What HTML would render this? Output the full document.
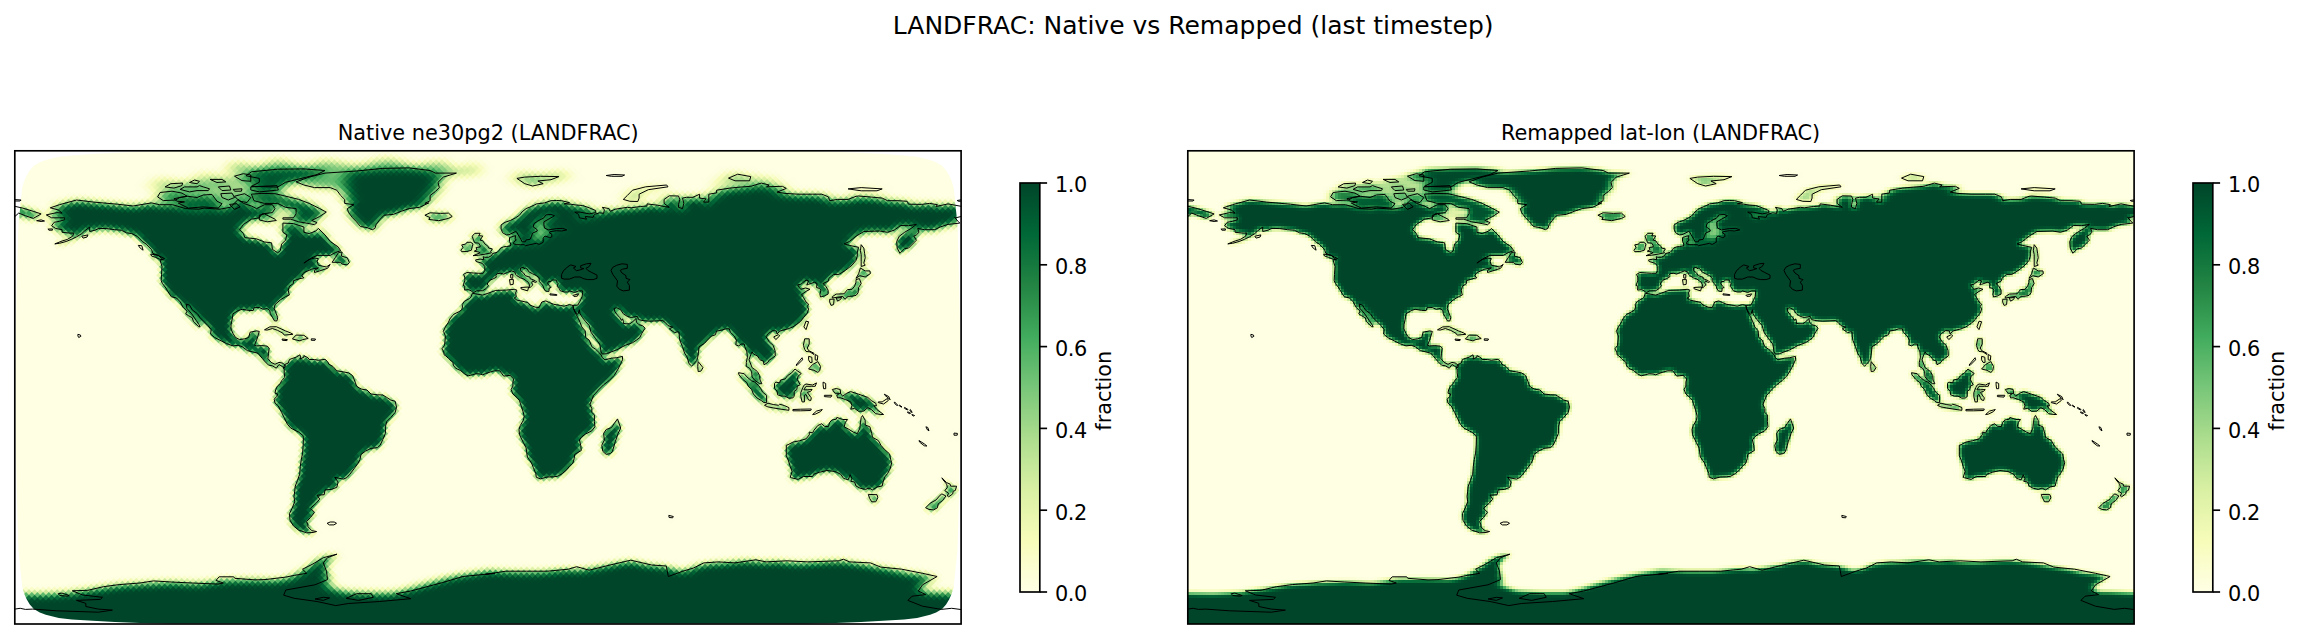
<!DOCTYPE html>
<html lang="en"><head><meta charset="utf-8"><title>LANDFRAC: Native vs Remapped</title>
<style>
html,body{margin:0;padding:0;background:#fff;}
body{width:2304px;height:639px;overflow:hidden;}
svg{display:block;font-family:"DejaVu Sans","Liberation Sans",sans-serif;fill:#000;}
</style></head><body>
<svg width="2304" height="639" viewBox="0 0 2304 639">
<defs>
<filter id="Lm" filterUnits="userSpaceOnUse" x="-30" y="-30" width="1006.3" height="533.2" color-interpolation-filters="sRGB"><feGaussianBlur in="SourceAlpha" stdDeviation="2.8 2.8"/><feColorMatrix type="matrix" values="0 0 0 1 0 0 0 0 1 0 0 0 0 1 0 0 0 0 0 1"/><feComponentTransfer><feFuncR type="table" tableValues="1.0000 0.9686 0.8510 0.6784 0.4706 0.2549 0.1373 0.0000 0.0000"/><feFuncG type="table" tableValues="1.0000 0.9882 0.9412 0.8667 0.7765 0.6706 0.5176 0.4078 0.2706"/><feFuncB type="table" tableValues="0.8980 0.7255 0.6392 0.5569 0.4745 0.3647 0.2627 0.2157 0.1608"/></feComponentTransfer></filter>
<filter id="Rm" filterUnits="userSpaceOnUse" x="-30" y="-30" width="1006.3" height="533.2" color-interpolation-filters="sRGB"><feGaussianBlur in="SourceAlpha" stdDeviation="2.0 2.0"/><feColorMatrix type="matrix" values="0 0 0 1 0 0 0 0 1 0 0 0 0 1 0 0 0 0 0 1"/><feComponentTransfer><feFuncR type="table" tableValues="1.0000 0.9686 0.8510 0.6784 0.4706 0.2549 0.1373 0.0000 0.0000"/><feFuncG type="table" tableValues="1.0000 0.9882 0.9412 0.8667 0.7765 0.6706 0.5176 0.4078 0.2706"/><feFuncB type="table" tableValues="0.8980 0.7255 0.6392 0.5569 0.4745 0.3647 0.2627 0.2157 0.1608"/></feComponentTransfer></filter>
<filter id="Lhn" filterUnits="userSpaceOnUse" x="-30" y="-30" width="1006.3" height="533.2" color-interpolation-filters="sRGB"><feGaussianBlur in="SourceAlpha" stdDeviation="4.0 3.2"/><feColorMatrix type="matrix" values="0 0 0 1 0 0 0 0 1 0 0 0 0 1 0 0 0 0 0 1"/><feComponentTransfer><feFuncR type="table" tableValues="1.0000 0.9686 0.8510 0.6784 0.4706 0.2549 0.1373 0.0000 0.0000"/><feFuncG type="table" tableValues="1.0000 0.9882 0.9412 0.8667 0.7765 0.6706 0.5176 0.4078 0.2706"/><feFuncB type="table" tableValues="0.8980 0.7255 0.6392 0.5569 0.4745 0.3647 0.2627 0.2157 0.1608"/></feComponentTransfer></filter>
<filter id="Rhn" filterUnits="userSpaceOnUse" x="-30" y="-30" width="1006.3" height="533.2" color-interpolation-filters="sRGB"><feGaussianBlur in="SourceAlpha" stdDeviation="2.6 2.1"/><feColorMatrix type="matrix" values="0 0 0 1 0 0 0 0 1 0 0 0 0 1 0 0 0 0 0 1"/><feComponentTransfer><feFuncR type="table" tableValues="1.0000 0.9686 0.8510 0.6784 0.4706 0.2549 0.1373 0.0000 0.0000"/><feFuncG type="table" tableValues="1.0000 0.9882 0.9412 0.8667 0.7765 0.6706 0.5176 0.4078 0.2706"/><feFuncB type="table" tableValues="0.8980 0.7255 0.6392 0.5569 0.4745 0.3647 0.2627 0.2157 0.1608"/></feComponentTransfer></filter>
<filter id="Lpn" filterUnits="userSpaceOnUse" x="-30" y="-30" width="1006.3" height="533.2" color-interpolation-filters="sRGB"><feGaussianBlur in="SourceAlpha" stdDeviation="7 3.8"/><feColorMatrix type="matrix" values="0 0 0 1 0 0 0 0 1 0 0 0 0 1 0 0 0 0 0 1"/><feComponentTransfer><feFuncR type="table" tableValues="1.0000 0.9686 0.8510 0.6784 0.4706 0.2549 0.1373 0.0000 0.0000"/><feFuncG type="table" tableValues="1.0000 0.9882 0.9412 0.8667 0.7765 0.6706 0.5176 0.4078 0.2706"/><feFuncB type="table" tableValues="0.8980 0.7255 0.6392 0.5569 0.4745 0.3647 0.2627 0.2157 0.1608"/></feComponentTransfer></filter>
<filter id="Rpn" filterUnits="userSpaceOnUse" x="-30" y="-30" width="1006.3" height="533.2" color-interpolation-filters="sRGB"><feGaussianBlur in="SourceAlpha" stdDeviation="4.0 2.3"/><feColorMatrix type="matrix" values="0 0 0 1 0 0 0 0 1 0 0 0 0 1 0 0 0 0 0 1"/><feComponentTransfer><feFuncR type="table" tableValues="1.0000 0.9686 0.8510 0.6784 0.4706 0.2549 0.1373 0.0000 0.0000"/><feFuncG type="table" tableValues="1.0000 0.9882 0.9412 0.8667 0.7765 0.6706 0.5176 0.4078 0.2706"/><feFuncB type="table" tableValues="0.8980 0.7255 0.6392 0.5569 0.4745 0.3647 0.2627 0.2157 0.1608"/></feComponentTransfer></filter>
<filter id="Lhs" filterUnits="userSpaceOnUse" x="-30" y="-30" width="1006.3" height="533.2" color-interpolation-filters="sRGB"><feGaussianBlur in="SourceAlpha" stdDeviation="4.0 3.2"/><feColorMatrix type="matrix" values="0 0 0 1 0 0 0 0 1 0 0 0 0 1 0 0 0 0 0 1"/><feComponentTransfer><feFuncR type="table" tableValues="1.0000 0.9686 0.8510 0.6784 0.4706 0.2549 0.1373 0.0000 0.0000"/><feFuncG type="table" tableValues="1.0000 0.9882 0.9412 0.8667 0.7765 0.6706 0.5176 0.4078 0.2706"/><feFuncB type="table" tableValues="0.8980 0.7255 0.6392 0.5569 0.4745 0.3647 0.2627 0.2157 0.1608"/></feComponentTransfer></filter>
<filter id="Rhs" filterUnits="userSpaceOnUse" x="-30" y="-30" width="1006.3" height="533.2" color-interpolation-filters="sRGB"><feGaussianBlur in="SourceAlpha" stdDeviation="2.6 2.1"/><feColorMatrix type="matrix" values="0 0 0 1 0 0 0 0 1 0 0 0 0 1 0 0 0 0 0 1"/><feComponentTransfer><feFuncR type="table" tableValues="1.0000 0.9686 0.8510 0.6784 0.4706 0.2549 0.1373 0.0000 0.0000"/><feFuncG type="table" tableValues="1.0000 0.9882 0.9412 0.8667 0.7765 0.6706 0.5176 0.4078 0.2706"/><feFuncB type="table" tableValues="0.8980 0.7255 0.6392 0.5569 0.4745 0.3647 0.2627 0.2157 0.1608"/></feComponentTransfer></filter>
<filter id="Lps" filterUnits="userSpaceOnUse" x="-30" y="-30" width="1006.3" height="533.2" color-interpolation-filters="sRGB"><feGaussianBlur in="SourceAlpha" stdDeviation="5.5 3.5"/><feColorMatrix type="matrix" values="0 0 0 1 0 0 0 0 1 0 0 0 0 1 0 0 0 0 0 1"/><feComponentTransfer><feFuncR type="table" tableValues="1.0000 0.9686 0.8510 0.6784 0.4706 0.2549 0.1373 0.0000 0.0000"/><feFuncG type="table" tableValues="1.0000 0.9882 0.9412 0.8667 0.7765 0.6706 0.5176 0.4078 0.2706"/><feFuncB type="table" tableValues="0.8980 0.7255 0.6392 0.5569 0.4745 0.3647 0.2627 0.2157 0.1608"/></feComponentTransfer></filter>
<filter id="Rps" filterUnits="userSpaceOnUse" x="-30" y="-30" width="1006.3" height="533.2" color-interpolation-filters="sRGB"><feGaussianBlur in="SourceAlpha" stdDeviation="3.4 2.3"/><feColorMatrix type="matrix" values="0 0 0 1 0 0 0 0 1 0 0 0 0 1 0 0 0 0 0 1"/><feComponentTransfer><feFuncR type="table" tableValues="1.0000 0.9686 0.8510 0.6784 0.4706 0.2549 0.1373 0.0000 0.0000"/><feFuncG type="table" tableValues="1.0000 0.9882 0.9412 0.8667 0.7765 0.6706 0.5176 0.4078 0.2706"/><feFuncB type="table" tableValues="0.8980 0.7255 0.6392 0.5569 0.4745 0.3647 0.2627 0.2157 0.1608"/></feComponentTransfer></filter>
<clipPath id="bm"><rect x="-5" y="83.42" width="956.3" height="306.35"/></clipPath><clipPath id="bhn"><rect x="-5" y="49.25" width="956.3" height="35.58"/></clipPath><clipPath id="bpn"><rect x="-5" y="-3.33" width="956.3" height="53.98"/></clipPath><clipPath id="bhs"><rect x="-5" y="388.38" width="956.3" height="35.58"/></clipPath><clipPath id="bps"><rect x="-5" y="422.55" width="956.3" height="53.98"/></clipPath>
<linearGradient id="cbg" x1="0" y1="1" x2="0" y2="0"><stop offset="0.0000" stop-color="rgb(255,255,229)"/><stop offset="0.1250" stop-color="rgb(247,252,185)"/><stop offset="0.2500" stop-color="rgb(217,240,163)"/><stop offset="0.3750" stop-color="rgb(173,221,142)"/><stop offset="0.5000" stop-color="rgb(120,198,121)"/><stop offset="0.6250" stop-color="rgb(65,171,93)"/><stop offset="0.7500" stop-color="rgb(35,132,67)"/><stop offset="0.8750" stop-color="rgb(0,104,55)"/><stop offset="1.0000" stop-color="rgb(0,69,41)"/></linearGradient>
<clipPath id="hull"><path d="M0.6 236.6L1.0 180.0L2.3 119.0L3.6 74.0L5.5 55.5L7.4 36.7L9.5 30.0L12.0 24.5L15.0 19.5L19.0 15.0L25.0 11.5L31.0 9.2L44.0 6.0L57.0 4.6L78.0 3.2L100.0 2.0L125.0 0.9L160.0 0.3L786.3 0.3L821.3 0.9L846.3 2.0L868.3 3.2L889.3 4.6L902.3 6.0L915.3 9.2L921.3 11.5L927.3 15.0L931.3 19.5L934.3 24.5L936.8 30.0L938.9 36.7L940.8 55.5L942.7 74.0L944.0 119.0L945.3 180.0L945.7 236.6L945.7 236.6L945.3 293.2L944.0 354.2L942.7 399.2L940.8 417.7L938.9 436.5L936.8 443.2L934.3 448.7L931.3 453.7L927.3 458.2L921.3 461.7L915.3 464.0L902.3 467.2L889.3 468.6L868.3 470.0L846.3 471.2L821.3 472.3L786.3 472.9L160.0 472.9L125.0 472.3L100.0 471.2L78.0 470.0L57.0 468.6L44.0 467.2L31.0 464.0L25.0 461.7L19.0 458.2L15.0 453.7L12.0 448.7L9.5 443.2L7.4 436.5L5.5 417.7L3.6 399.2L2.3 354.2L1.0 293.2L0.6 236.6Z"/></clipPath>
<clipPath id="boxR"><rect x="-0.2" y="-0.2" width="946.3" height="473.2"/></clipPath>
<filter id="pix" filterUnits="userSpaceOnUse" x="-6" y="-6" width="960" height="486" color-interpolation-filters="sRGB">
<feFlood x="-5" y="-5" width="1" height="1" flood-color="#000"/>
<feComposite x="-6" y="-6" width="3" height="3"/>
<feTile result="a"/>
<feComposite in="SourceGraphic" in2="a" operator="in"/>
<feMorphology operator="dilate" radius="1"/>
</filter>
<filter id="pixD" filterUnits="userSpaceOnUse" x="-12" y="-684" width="1032" height="1036" color-interpolation-filters="sRGB">
<feFlood x="-11" y="-683" width="1" height="1" flood-color="#000"/>
<feComposite x="-12" y="-684" width="4" height="4"/>
<feTile result="a"/>
<feComposite in="SourceGraphic" in2="a" operator="in"/>
<feMorphology operator="dilate" radius="1" result="m"/>
<feOffset in="m" dx="1" dy="0" result="m1"/>
<feMerge result="m2"><feMergeNode in="m1"/><feMergeNode in="m"/></feMerge>
<feOffset in="m2" dx="0" dy="1" result="m3"/>
<feMerge><feMergeNode in="m3"/><feMergeNode in="m2"/></feMerge>
</filter>
<clipPath id="box"><rect x="0" y="0" width="946.3" height="473.2"/></clipPath>
<g id="landL">
<path fill-opacity="0.06" d="M897.1 263.7L899.8 264.7L899.0 265.3L897.1 264.2Z"/>
<path fill-opacity="0.08" d="M884.5 254.2L887.2 256.1L886.4 256.3L884.3 254.7ZM889.8 256.6L893.2 258.7L892.7 259.2L889.5 257.4ZM892.9 261.0L895.8 262.4L895.0 262.9L892.7 261.8ZM895.6 258.7L897.4 261.6L896.6 261.6L895.0 259.2Z"/>
<path fill-opacity="0.1" d="M-2.6 48.6L6.3 49.2L5.3 50.2L-2.6 50.2ZM942.4 49.7L948.9 48.6L948.9 50.2L943.7 50.5ZM33.1 78.3L37.6 78.1L37.6 79.4L34.2 79.4ZM63.1 183.5L65.7 184.3L66.0 185.6L63.9 186.7L63.1 185.1ZM654.0 364.6L658.5 365.7L657.9 367.0L654.3 366.7ZM911.1 276.0L912.9 276.6L914.2 280.0L912.7 279.2Z"/>
<path fill-opacity="0.12" d="M591.4 24.7L599.3 23.7L609.8 24.2L607.2 25.5L596.7 25.5ZM879.8 251.1L883.0 254.5L881.9 254.7L879.5 252.1Z"/>
<path fill-opacity="0.15" d="M312.3 372.5L315.4 371.2L319.4 371.2L321.7 372.5L319.1 374.1L314.6 374.1ZM21.8 69.9L26.3 69.1L29.7 70.2L26.3 70.7ZM939.2 282.3L942.6 282.6L942.4 284.4L939.2 284.4Z"/>
<path fill-opacity="0.2" d="M296.5 188.0L300.7 188.2L300.2 189.5L296.5 189.5ZM535.2 143.0L542.0 143.8L542.0 144.6L535.2 144.1ZM869.5 243.4L874.0 245.8L875.3 249.0L874.0 247.6L870.1 244.5ZM904.2 289.7L909.5 293.1L912.1 295.2L909.5 295.0L904.8 291.3Z"/>
<path fill-opacity="0.22" d="M249.7 53.9L257.6 53.9L260.2 57.8L257.6 61.8L247.1 63.1L249.7 63.1L260.2 68.4L268.1 67.0L278.6 67.0L281.3 63.1L281.3 57.8L270.7 56.5L262.9 52.6L249.7 52.6Z"/>
<path fill-opacity="0.25" d="M123.5 94.6L127.0 94.9L128.3 99.4L125.4 97.3Z"/>
<path fill-opacity="0.3" d="M267.3 188.2L272.6 188.8L272.1 189.8L267.6 189.5ZM441.6 18.4L460.0 10.5L467.9 21.0L452.1 25.0ZM494.2 28.9L504.7 19.7L525.7 23.7L546.8 18.4L557.3 26.3L536.2 30.2ZM131.4 36.8L144.6 26.3L170.9 31.5L189.3 21.0L210.3 26.3L210.3 34.2L170.9 36.8ZM696.6 34.2L715.0 21.0L736.0 25.0L757.0 26.3L767.6 32.9L736.0 34.2ZM67.0 85.4L73.1 84.1L72.3 86.2L68.3 87.3ZM833.3 38.1L846.4 36.8L867.4 38.1L862.2 40.0L846.4 40.0ZM495.8 123.8L498.1 123.8L497.9 127.5L496.0 127.2ZM558.1 144.6L563.8 143.0L562.5 145.4L559.1 145.6ZM781.2 214.3L787.3 206.9L787.8 209.0L782.0 214.8Z"/>
<path fill-opacity="0.33" d="M141.9 49.9L144.6 39.4L163.0 34.2L197.1 30.2L223.4 22.3L236.6 17.9L289.1 16.8L315.4 19.2L302.3 24.2L283.9 28.9L270.7 34.2L265.5 40.7L270.7 45.2L249.7 51.8L236.6 56.5L218.2 57.8L197.1 57.3L170.9 57.8L157.7 53.9Z"/>
<path fill-opacity="0.35" d="M808.3 231.3L810.9 232.7L810.9 237.9L808.8 237.9L808.3 234.0ZM809.6 244.5L817.0 244.5L816.2 246.3L809.6 245.8Z"/>
<path fill-opacity="0.4" d="M713.7 27.3L722.9 23.4L736.0 25.8L734.7 30.0L720.2 30.0ZM778.1 258.7L786.0 258.4L796.5 258.2L795.9 259.7L786.0 260.0L778.1 260.0ZM863.5 251.1L867.4 251.1L872.7 247.6L873.5 249.7L868.8 253.2L863.5 251.8ZM218.5 38.6L227.2 38.0L226.6 40.4L219.7 40.4Z"/>
<path fill-opacity="0.45" d="M608.5 48.6L612.5 44.7L617.7 39.4L630.9 36.0L651.9 34.2L653.2 36.0L633.5 38.9L624.3 43.4L624.3 47.3L623.0 50.7L615.1 50.5ZM517.8 82.3L522.6 80.2L521.8 78.3L518.4 76.2L519.2 72.8L523.1 70.2L529.1 67.0L531.0 64.1L536.2 63.6L539.7 64.9L537.6 66.2L529.1 71.0L529.1 74.1L529.7 77.3L533.6 79.1L541.5 77.8L548.1 77.6L552.0 79.1L546.8 80.2L541.5 79.9L534.9 81.0L534.9 82.3L537.0 83.3L537.0 86.0L534.9 86.8L530.2 85.2L528.4 87.3L528.4 91.5L524.4 93.6L521.5 92.5L515.2 93.9L510.7 94.9L505.5 93.9L502.1 93.9L500.8 90.7L506.3 88.9L507.3 91.0L510.5 91.0L511.3 89.1L515.2 88.6L516.5 86.0ZM195.3 28.6L207.2 28.6L211.0 31.1L202.2 31.7Z"/>
<path fill-opacity="0.5" d="M210.3 19.7L220.8 10.5L241.8 15.8L262.9 7.4L289.1 15.2L310.2 8.4L341.7 14.5L373.3 6.6L399.5 14.5L425.8 9.2L441.6 18.4L452.1 23.7L420.6 21.0L368.0 18.4L315.4 21.0L262.9 18.9ZM502.1 27.6L510.0 26.3L525.7 25.5L544.1 25.8L536.2 28.9L523.1 30.2L528.4 32.9L517.8 35.2L510.0 32.9ZM494.7 128.8L498.6 128.8L498.4 133.5L495.5 134.1ZM800.4 203.7L803.0 205.1L802.5 209.5L800.4 209.0ZM793.8 205.6L797.0 206.4L797.3 211.6L795.2 211.6L793.8 209.0ZM797.8 263.7L801.7 260.3L807.5 258.7L805.7 260.8L800.4 263.4ZM150.3 36.1L156.0 32.9L167.8 32.3L167.2 34.8L159.1 37.3ZM174.7 31.7L179.7 29.2L184.7 30.5L182.2 32.9ZM203.5 36.1L214.7 35.2L216.0 39.2L207.2 39.8Z"/>
<path fill-opacity="0.55" d="M281.3 31.0L294.4 26.3L310.2 22.3L331.2 20.5L331.2 28.9L328.6 36.8L322.0 39.4L315.4 36.8L299.7 36.8L289.1 34.2ZM171.4 153.3L172.2 157.7L176.9 163.0L181.4 169.6L184.0 173.5L185.3 176.1L189.3 170.9L185.3 166.9L182.7 163.0L177.4 159.0L174.8 154.3ZM206.0 42.9L217.2 42.3L219.7 46.7L213.5 49.2L207.2 46.7Z"/>
<path fill-opacity="0.6" d="M236.6 17.9L236.6 40.7L265.5 40.7L270.7 34.2L283.9 28.9L302.3 24.2L315.4 19.2L289.1 16.8ZM584.9 202.4L587.0 205.1L587.0 206.4L590.1 203.5L587.5 203.2L586.2 201.1ZM821.4 147.2L826.7 146.7L825.9 148.5L822.8 150.4ZM791.2 170.4L793.8 170.9L791.2 178.8L789.1 176.1ZM165.3 38.6L169.7 36.1L182.2 36.1L184.7 34.8L188.5 36.1L194.7 38.0L193.5 39.8L182.2 39.8L174.7 41.1ZM219.7 45.4L229.7 42.9L236.0 46.7L232.2 51.7L224.7 50.4ZM214.7 53.6L222.2 52.9L225.3 56.1L219.7 58.6Z"/>
<path fill-opacity="0.7" d="M244.5 64.4L249.7 63.1L260.2 68.4L261.5 69.7L252.3 71.0L244.5 69.1ZM506.0 136.7L513.9 136.2L512.8 140.1L506.3 138.0ZM846.4 93.9L849.0 97.3L849.8 102.5L850.4 107.0L849.0 112.3L850.4 114.4L846.4 115.7L846.4 110.4L846.4 103.8L845.6 99.9ZM814.9 148.5L819.3 148.3L818.8 153.8L816.2 154.6L814.9 151.2ZM758.9 186.1L763.6 183.8L764.9 185.1L761.0 188.8ZM142.8 46.1L145.3 41.7L157.2 40.4L167.2 42.3L172.2 45.4L164.7 46.7L161.0 49.2L148.5 49.8ZM219.7 25.4L228.5 22.9L236.0 24.2L236.0 30.5L227.2 29.8Z"/>
<path fill-opacity="0.75" d="M446.9 100.9L452.1 100.7L456.6 99.4L457.4 96.0L458.2 93.3L456.1 91.5L452.1 91.5L450.8 93.3L446.9 94.1L448.2 96.7L446.1 99.4ZM559.9 61.3L565.2 61.3L574.4 63.1L580.9 61.8L580.9 59.7L588.8 62.6L584.9 62.0L579.6 63.6L578.3 66.5L570.4 65.7L571.7 68.4L564.6 67.0L563.8 63.6Z"/>
<path fill-opacity="0.8" d="M236.6 35.5L262.9 36.3L270.7 31.5L281.3 28.9L302.3 23.7L310.2 19.7L289.1 18.1L262.9 18.4L236.6 21.0L231.3 25.0L244.5 27.6L244.5 31.5ZM249.7 179.0L255.0 176.1L261.5 175.9L270.7 180.1L276.0 182.2L278.1 183.5L269.4 184.3L268.1 182.4L262.9 179.6L257.6 177.7L252.3 179.3ZM277.6 188.2L281.3 184.3L289.1 184.5L293.4 187.7L287.8 188.8L285.2 190.1ZM500.8 90.7L502.1 93.9L505.5 93.9L510.7 94.9L515.2 93.9L521.5 92.5L524.4 93.6L528.4 91.5L528.4 87.3L520.5 86.8L516.5 86.0L515.2 88.6L511.3 89.1L510.5 91.0L507.3 91.0L506.3 88.9ZM533.6 79.1L541.5 77.8L548.1 77.6L552.0 79.1L546.8 80.2L541.5 79.9L534.9 81.0ZM530.2 85.2L534.9 86.8L537.0 86.0L537.0 83.3L534.9 82.3L531.0 83.3ZM501.0 84.9L503.4 84.1L506.3 88.9L507.3 91.0L505.5 93.9L502.1 93.9L498.9 93.1L498.9 91.5L501.5 89.1L500.2 88.1ZM683.4 210.8L688.2 216.9L686.1 220.3L683.4 220.8L682.9 215.6ZM789.9 188.0L794.4 188.0L794.4 193.2L792.5 197.2L793.8 199.8L799.1 202.4L799.1 203.7L795.2 201.1L791.2 200.6L789.9 198.5L788.6 194.5ZM793.8 218.2L797.8 213.7L803.0 210.8L805.7 215.6L804.9 220.0L803.0 221.6L799.1 219.5ZM749.7 254.5L753.1 252.4L758.4 253.7L763.6 254.5L764.9 253.4L769.4 254.7L774.1 256.8L774.1 259.5L766.2 258.4L758.4 257.1L753.1 256.1ZM787.3 251.1L786.0 245.8L786.0 241.9L788.1 236.6L789.1 234.5L791.2 233.2L797.8 234.2L801.7 232.1L800.4 235.5L796.5 235.5L791.2 235.5L789.1 239.0L792.5 239.0L797.3 238.7L795.9 240.5L792.5 241.6L795.2 245.3L796.5 247.1L795.9 249.7L793.8 249.2L792.5 246.6L791.2 243.7L789.6 244.5L789.6 251.1ZM853.5 343.6L862.2 343.9L863.0 347.0L860.9 351.0L856.9 351.0L854.8 347.5ZM927.1 327.0L931.8 331.8L935.3 333.3L935.8 335.4L941.8 335.4L940.5 339.7L938.4 340.4L937.9 343.1L933.9 346.0L932.6 345.2L933.7 342.3L930.0 339.9L932.6 336.5L931.8 333.3L927.9 328.6Z"/>
<path fill-opacity="0.85" d="M458.2 104.9L463.9 104.4L470.5 103.3L476.6 102.0L475.8 100.9L477.6 98.1L473.9 97.3L473.1 95.4L470.0 93.1L467.9 89.9L465.3 89.4L467.9 85.2L463.9 84.9L465.3 82.5L460.0 82.5L457.4 85.4L458.7 89.4L460.0 92.0L463.9 92.3L465.3 94.6L465.3 96.2L461.3 96.7L462.1 99.1L459.5 100.4L463.9 101.2L465.3 102.0ZM410.1 64.4L415.3 62.0L425.8 62.6L433.7 62.3L437.4 65.7L433.7 67.6L424.0 69.9L414.0 68.6L415.3 66.8ZM841.2 127.5L843.8 123.0L845.6 117.2L850.4 120.1L855.1 120.1L855.6 122.8L850.4 126.2L845.1 124.9ZM927.1 343.1L931.1 345.2L927.9 349.6L923.4 353.1L922.6 357.0L918.7 359.1L914.2 358.6L910.8 357.0L915.5 352.3L921.3 349.1L925.3 344.4ZM236.0 36.1L262.2 34.8L263.5 39.2L244.7 41.1L236.0 39.2Z"/>
<path fill-opacity="0.9" d="M844.6 127.8L846.4 132.8L843.8 136.7L843.3 142.0L841.2 144.6L837.2 145.4L833.3 145.6L830.1 148.5L828.0 145.6L822.8 146.4L817.5 147.2L817.5 145.9L821.4 143.3L829.3 143.0L832.7 138.8L837.2 138.5L839.8 135.4L841.2 131.4L841.2 128.8ZM159.1 47.9L172.2 45.4L182.2 46.7L188.5 44.2L197.2 43.6L202.2 50.4L207.2 52.9L203.5 57.3L188.5 56.1L173.5 57.3L163.5 52.3L169.7 51.1L162.2 50.4Z"/>
<path fill-opacity="0.95" d="M311.5 61.3L304.9 57.8L294.4 52.6L283.9 48.6L268.1 44.7L260.2 42.9L247.1 42.6L236.6 43.4L239.2 49.9L249.7 52.6L262.9 52.6L270.7 56.5L281.3 57.8L281.3 63.1L278.6 67.0L268.1 67.0L268.1 68.4L276.0 68.4L283.9 71.0L294.4 72.8L299.7 73.9L302.3 71.8L297.0 69.7L302.3 67.0L304.9 65.7ZM723.7 221.9L729.4 222.9L732.1 226.1L736.8 230.0L740.0 231.3L743.9 234.8L746.0 237.9L747.8 241.3L751.8 244.5L751.8 251.8L749.2 251.8L746.5 249.7L742.1 247.1L738.6 243.2L736.8 238.7L733.4 235.3L732.1 231.9L728.1 228.7L724.2 224.0Z"/>
<path fill-opacity="1" d="M31.5 64.1L42.1 61.8L47.3 62.3L43.4 59.1L35.5 57.0L44.7 53.9L61.8 49.2L78.9 51.3L102.5 53.4L118.3 55.2L136.7 52.1L144.6 53.9L157.7 53.9L170.9 57.8L184.0 58.4L189.3 57.3L205.0 58.4L215.5 56.5L223.4 48.6L228.7 52.6L236.6 55.2L241.8 57.8L249.7 53.9L257.6 53.9L260.2 57.8L257.6 61.8L247.1 63.1L244.5 67.0L236.6 68.4L228.7 73.6L224.7 78.9L228.7 82.8L230.0 86.8L241.8 88.1L249.7 91.2L256.8 92.0L257.6 98.6L262.9 102.0L265.5 99.9L266.8 93.3L270.7 89.4L272.1 84.1L268.1 81.5L268.1 76.2L268.1 72.3L278.6 72.8L289.1 76.2L289.1 81.5L294.4 82.8L301.0 80.2L303.6 77.6L310.2 84.1L315.4 90.7L323.3 96.0L325.9 99.9L320.7 101.7L315.4 104.6L302.3 104.6L297.0 107.0L289.1 112.3L294.4 108.6L299.7 107.3L303.6 107.8L302.3 110.4L303.6 114.4L311.5 116.2L315.4 113.6L312.8 117.5L304.9 120.1L299.7 121.7L299.7 119.6L303.6 117.0L297.0 118.3L293.1 120.1L289.1 121.7L287.0 124.9L289.1 127.0L285.2 127.8L278.6 129.9L278.6 132.8L274.7 135.4L273.4 139.3L274.2 143.3L274.7 144.1L270.7 145.9L265.5 149.1L260.2 153.8L259.4 157.7L261.5 163.0L262.9 166.9L262.1 170.1L259.7 170.1L257.6 166.4L255.5 163.0L255.0 159.8L252.3 157.7L248.4 158.5L244.5 156.7L239.2 156.9L238.4 159.8L233.9 159.6L227.4 158.5L223.4 159.8L218.2 163.0L217.4 168.2L216.3 173.5L216.1 178.0L218.2 182.7L220.8 186.7L224.7 188.8L230.0 188.0L233.9 186.7L235.3 181.4L241.8 180.1L244.5 180.6L243.1 185.3L241.8 189.3L239.7 194.5L241.8 195.1L247.1 194.8L252.3 195.3L254.4 197.2L253.7 202.4L253.1 207.7L256.3 211.6L260.2 213.5L264.2 211.6L268.1 212.4L270.7 215.0L269.4 217.4L267.3 215.6L264.2 213.7L261.5 217.4L257.6 215.0L253.7 214.3L249.7 210.3L247.6 207.7L243.1 202.4L237.9 201.1L232.6 199.8L227.4 195.9L223.4 194.5L218.2 195.1L211.6 192.7L205.0 189.3L199.8 186.7L195.8 183.2L196.4 178.8L193.2 174.8L189.3 170.9L185.3 166.9L182.7 163.0L177.4 159.0L174.8 154.3L171.4 153.3L172.2 157.7L176.9 163.0L181.4 169.6L184.0 173.5L185.3 176.1L183.5 175.6L178.7 170.9L177.4 166.9L173.5 164.8L170.9 163.0L172.2 160.4L168.2 156.4L165.6 151.2L161.7 147.2L156.4 145.9L153.0 140.6L151.1 137.2L147.7 132.8L146.4 130.1L146.7 123.6L147.2 115.7L145.4 109.6L149.8 107.8L144.6 105.2L138.0 102.5L136.7 98.6L131.4 93.3L127.5 90.7L122.2 85.4L117.0 82.8L111.7 82.0L106.5 79.4L99.9 78.9L92.0 77.8L84.1 77.6L80.2 79.4L74.9 80.7L74.9 76.2L69.7 80.2L67.0 82.8L61.8 86.0L56.5 88.6L51.3 90.7L44.7 92.5L40.0 93.1L47.3 90.2L52.6 88.6L57.8 85.4L59.1 82.3L55.2 82.3L47.3 81.5L47.3 78.9L40.7 77.6L36.8 74.9L39.4 71.5L44.7 70.5L49.9 68.9L49.9 67.0L44.7 67.0L36.8 67.0ZM135.9 103.3L143.3 104.4L148.5 109.1L144.6 108.3L140.6 106.5L136.7 105.2ZM317.3 111.5L320.7 106.5L323.8 101.7L327.3 101.2L326.5 105.2L332.5 107.0L334.6 111.7L332.5 114.1L327.3 113.3L325.9 111.5ZM270.0 213.7L273.4 212.2L274.7 208.7L277.3 207.7L281.3 206.4L285.2 204.0L285.7 206.4L285.2 208.2L289.1 206.4L289.1 204.8L293.1 206.9L294.4 208.7L299.7 208.7L303.6 209.5L310.2 208.5L312.8 210.8L314.1 213.5L318.1 215.6L322.0 220.0L328.6 221.1L333.8 222.1L337.8 224.8L340.4 231.3L341.7 235.3L344.3 237.1L347.0 238.4L352.2 239.2L356.2 243.2L362.7 244.0L368.0 244.2L371.9 246.6L375.9 249.2L380.4 250.5L381.7 256.3L380.4 261.6L375.9 266.8L371.9 270.8L370.6 276.0L370.6 282.6L368.0 288.7L365.4 294.4L362.7 296.8L356.2 297.6L350.9 300.2L346.2 303.6L345.1 308.9L343.0 312.8L339.1 318.1L335.1 323.4L332.0 326.8L328.6 328.3L323.3 327.3L319.9 326.5L323.3 331.2L322.0 336.5L316.7 338.6L310.2 339.1L309.4 343.9L302.3 344.4L304.9 348.3L301.5 352.3L295.7 357.5L299.7 361.5L295.7 366.7L291.8 370.7L293.1 374.1L293.1 375.9L297.0 379.9L301.8 380.7L298.3 381.7L291.8 382.0L283.9 379.3L278.6 375.1L275.2 369.4L274.7 362.8L277.3 357.5L279.9 351.0L279.2 345.7L279.9 340.4L280.5 335.2L282.6 329.9L284.9 323.4L285.5 315.5L286.5 308.9L287.8 302.3L288.4 294.4L288.6 286.5L288.1 284.7L283.9 281.3L276.0 277.3L272.6 273.4L270.0 268.1L266.8 261.6L263.4 255.0L260.2 252.4L259.4 248.4L262.1 245.5L262.9 243.2L260.2 242.4L260.8 239.2L262.6 235.3L265.5 232.7L266.8 230.0L270.0 226.6L269.4 222.1L269.4 218.2L268.4 217.4ZM331.2 20.5L368.0 17.6L394.3 17.1L415.3 19.7L420.6 22.3L436.3 22.9L428.5 26.3L423.2 31.5L424.5 36.8L420.6 40.7L415.3 44.7L415.3 49.9L410.1 52.6L414.0 52.1L404.8 56.5L394.3 57.8L386.4 60.5L378.5 63.6L369.3 64.4L365.4 68.4L361.4 73.6L360.1 77.6L357.5 78.9L352.2 76.8L345.7 75.7L341.7 71.0L337.8 67.0L333.8 61.8L332.5 57.8L336.5 53.9L331.2 49.9L331.2 44.7L328.6 36.8L331.2 28.9ZM458.4 142.0L456.6 140.1L453.7 138.8L449.8 139.3L450.0 135.4L448.2 134.6L450.0 130.1L450.0 126.2L448.7 123.6L452.1 121.7L458.7 122.2L463.9 122.5L468.4 122.5L470.0 119.6L470.0 115.7L467.4 112.5L461.3 110.7L460.8 109.1L465.3 108.3L468.9 108.8L468.4 105.9L470.0 106.5L473.7 106.5L477.1 104.6L477.6 102.8L482.4 101.5L484.5 99.4L485.8 97.3L488.9 96.0L491.6 95.7L495.5 95.2L496.0 93.3L494.7 90.7L494.7 86.8L498.9 85.4L501.0 84.9L500.2 88.1L501.5 89.1L498.9 91.5L498.9 93.1L502.1 93.9L505.5 93.9L509.4 93.9L510.7 94.9L515.2 93.9L521.5 92.5L524.4 93.6L528.4 91.5L528.4 87.3L530.2 85.2L534.9 86.8L537.0 86.0L537.0 83.3L534.9 82.3L534.9 81.0L541.5 79.9L546.8 80.2L552.0 79.1L548.1 77.6L541.5 77.8L533.6 79.1L529.7 77.3L529.1 74.1L529.1 71.0L537.6 66.2L539.7 64.9L536.2 63.6L531.0 64.1L529.1 67.0L523.1 70.2L519.2 72.8L518.4 76.2L521.8 78.3L522.6 80.2L517.8 82.3L516.5 86.0L515.2 88.6L511.3 89.1L510.5 91.0L507.3 91.0L506.3 88.9L503.4 84.1L502.1 81.5L500.8 80.7L498.1 82.0L494.2 83.9L491.6 84.1L487.9 82.0L486.3 78.3L486.3 74.1L490.2 71.5L495.5 69.7L500.8 67.0L504.7 64.4L507.3 61.0L511.3 57.8L516.5 55.7L521.8 53.1L529.7 52.1L536.2 49.9L541.5 49.7L546.8 49.9L554.6 51.8L549.4 53.1L556.0 53.4L561.2 54.2L567.8 54.7L574.4 57.0L580.9 59.7L580.9 61.8L574.4 63.1L565.2 61.3L559.9 61.3L563.8 63.6L564.6 67.0L571.7 68.4L570.4 65.7L578.3 66.5L579.6 63.6L584.9 62.0L588.8 62.6L589.6 59.1L587.5 56.5L594.1 57.8L595.4 60.5L600.6 58.4L612.5 56.5L616.4 57.0L625.6 55.7L632.2 55.2L632.2 53.1L642.7 54.4L649.3 55.7L654.5 56.5L649.3 52.6L649.3 48.6L654.5 45.0L663.7 45.2L665.0 48.6L663.7 53.9L663.7 56.5L667.7 57.8L669.0 52.6L667.7 47.3L671.6 46.5L678.2 46.5L684.8 43.4L684.8 47.3L691.3 48.1L688.7 51.3L694.0 51.3L694.0 43.4L701.8 42.1L701.8 39.4L715.0 37.3L725.5 36.3L736.0 35.5L746.5 32.3L754.4 34.2L751.8 36.0L767.6 35.5L771.5 37.6L762.3 41.3L770.2 42.6L783.3 43.4L797.8 43.4L807.0 43.4L813.6 46.0L814.9 49.9L822.8 48.6L833.3 48.6L841.2 45.5L843.8 45.2L856.9 46.3L867.4 47.3L872.7 49.9L883.2 49.9L892.4 50.5L893.7 53.4L906.9 53.6L914.8 52.6L922.6 53.9L921.3 55.7L933.2 53.1L946.3 55.5L964.7 55.5L964.7 65.7L946.3 65.7L941.0 67.0L939.7 66.5L943.7 71.0L945.0 72.3L933.2 73.6L925.3 76.2L920.0 78.9L909.5 78.9L902.9 77.6L904.2 81.5L901.6 84.1L899.0 85.4L901.6 89.4L899.0 92.0L893.7 97.3L889.8 97.8L885.1 102.5L882.4 97.3L881.9 90.7L884.5 85.4L889.8 81.5L896.4 77.6L901.6 73.6L893.7 74.9L885.8 74.7L879.3 79.4L872.7 81.5L864.8 80.2L849.0 80.7L841.2 85.4L834.6 90.7L829.3 93.1L834.6 94.6L843.8 96.5L842.5 101.2L842.5 105.2L841.2 109.6L837.2 114.4L830.6 119.6L824.1 123.6L818.8 123.6L816.7 125.4L814.1 127.5L813.6 130.1L808.3 132.8L810.9 135.4L813.3 139.3L813.3 143.3L809.6 145.1L805.7 146.2L805.1 143.3L806.2 139.3L804.4 137.5L801.7 136.7L802.3 132.8L799.9 131.4L793.8 133.5L792.0 134.1L793.8 130.1L791.2 129.3L786.0 133.5L782.8 134.1L784.6 136.7L786.0 138.5L790.7 137.2L795.2 138.5L791.2 140.6L786.7 143.8L788.6 146.4L791.2 151.2L793.8 153.3L792.5 155.6L793.8 158.3L792.5 162.2L788.6 166.9L786.0 170.4L782.0 173.5L778.1 176.1L773.3 178.0L770.2 178.8L764.9 180.3L762.3 183.2L761.5 180.1L757.8 179.8L753.6 182.7L751.3 185.9L754.4 191.1L758.4 194.5L760.2 199.8L760.5 205.1L757.0 207.7L754.4 209.3L753.1 211.6L749.2 214.0L748.6 210.3L745.2 209.0L742.6 205.1L738.6 203.2L737.3 201.1L736.0 203.7L734.2 209.0L735.5 212.2L737.3 216.9L740.0 218.7L742.6 220.8L744.9 224.8L745.2 229.2L747.1 232.9L744.9 232.9L740.0 229.5L737.3 226.1L736.8 220.8L734.7 217.4L731.5 215.6L731.5 211.6L732.6 206.4L732.1 201.1L730.0 195.9L729.4 193.2L726.8 193.2L723.7 195.1L721.0 194.0L721.6 189.3L719.5 185.3L715.5 181.4L714.5 178.0L711.0 178.0L707.1 179.3L701.8 180.3L700.5 184.0L696.6 185.3L692.6 189.3L689.5 192.7L684.2 195.9L683.7 201.1L682.9 206.4L682.1 209.5L678.7 213.5L676.9 215.3L674.2 212.9L672.4 206.4L669.8 202.4L667.7 195.9L665.0 189.3L664.5 185.3L664.3 181.4L662.9 180.9L659.8 181.9L654.5 178.0L657.9 176.4L653.2 174.8L650.1 171.4L648.0 169.8L641.4 170.1L634.8 170.4L628.2 169.8L623.8 168.8L622.5 165.6L616.4 166.7L612.5 165.6L608.5 163.0L605.9 159.0L602.0 156.9L599.3 157.7L600.1 160.9L602.7 164.3L605.1 166.9L606.7 169.6L607.7 168.0L608.8 170.9L608.3 172.5L611.2 173.0L615.1 173.0L619.0 170.1L621.1 167.7L621.7 171.4L624.3 174.0L627.7 174.8L630.3 177.4L626.9 182.7L625.1 186.7L621.7 189.3L617.7 191.9L610.4 194.5L602.0 199.0L591.4 203.0L587.5 203.2L586.2 201.1L585.7 197.2L584.9 193.2L580.9 188.0L576.2 181.4L574.4 174.8L570.9 170.9L567.8 166.9L565.2 163.0L564.6 159.0L563.3 163.0L563.0 163.5L560.7 161.7L558.8 158.0L558.1 154.6L563.0 154.3L565.2 150.4L567.3 145.9L567.8 142.0L567.8 140.1L563.8 140.1L559.9 141.7L554.6 140.1L553.3 141.2L549.4 141.2L545.4 139.9L544.6 138.0L542.3 135.4L543.3 132.8L542.0 131.4L542.0 130.1L541.5 129.3L537.6 129.1L536.2 130.7L533.6 130.7L532.8 132.8L534.9 135.4L536.2 136.7L534.4 137.2L534.1 140.6L532.3 140.6L530.2 139.9L528.9 137.2L528.4 135.4L527.0 133.3L524.4 130.7L524.4 127.0L521.8 124.9L517.8 123.0L513.9 120.9L512.6 118.3L510.7 117.5L509.2 117.8L508.9 116.5L505.7 117.2L505.5 119.6L508.6 122.0L510.5 124.9L515.2 126.4L515.2 127.8L520.5 129.9L521.8 131.2L520.5 131.7L517.8 130.1L516.8 132.0L518.1 134.1L516.5 135.4L515.2 137.0L514.4 136.7L514.7 134.1L513.4 131.4L511.3 129.9L509.2 128.3L505.5 127.0L502.1 124.9L500.8 123.6L500.0 121.2L496.8 120.1L492.9 121.5L488.9 123.3L485.8 122.5L482.4 122.8L481.0 124.9L481.6 126.4L478.4 128.0L475.3 129.3L473.1 132.0L472.4 133.3L473.7 134.9L471.3 137.8L467.9 139.9L461.6 140.1ZM-18.4 55.5L0.0 55.5L7.9 57.3L18.4 60.5L26.3 63.1L21.0 66.2L18.4 67.6L10.5 64.9L3.9 62.3L0.0 65.7L-18.4 65.7ZM457.6 142.5L467.9 144.3L473.1 142.5L481.0 139.6L491.6 139.3L499.4 138.5L502.1 139.3L500.8 142.0L501.5 145.9L499.4 147.2L502.1 149.3L506.0 150.1L513.1 151.7L515.2 154.3L520.5 156.4L524.4 156.7L525.7 153.8L527.0 151.2L531.0 150.1L534.9 151.9L538.9 153.5L545.4 154.6L549.4 155.4L554.6 153.8L558.1 154.6L558.8 158.0L560.7 162.5L562.5 165.6L565.2 171.4L567.0 176.1L570.4 180.1L570.9 186.7L574.4 189.3L577.0 195.9L580.9 198.5L584.9 202.4L587.0 205.1L587.0 206.4L590.1 209.0L596.7 207.4L602.0 206.9L607.7 205.6L607.7 209.0L605.9 212.9L603.3 218.2L599.3 224.8L594.1 230.0L588.8 234.0L583.6 239.2L580.9 242.4L578.8 244.5L577.0 249.0L575.1 253.7L577.0 257.6L577.0 261.6L579.6 264.2L579.6 270.8L580.1 276.0L577.0 280.0L570.4 283.4L566.5 286.5L564.6 289.2L565.9 294.4L566.5 299.7L559.9 303.6L559.4 307.6L558.1 312.3L554.6 315.5L552.0 318.9L547.5 322.8L542.8 325.5L538.9 326.0L532.3 326.2L525.7 328.1L521.5 326.5L521.0 322.8L518.6 316.8L516.5 311.8L512.6 306.3L511.3 297.1L508.6 291.8L504.7 283.9L504.2 278.7L505.5 274.7L508.6 269.5L509.4 265.5L508.1 260.3L505.5 252.4L504.7 249.7L502.3 246.9L498.1 243.2L496.3 238.7L498.1 235.3L498.1 231.3L498.9 228.2L496.8 226.1L495.5 224.5L491.6 225.0L488.9 225.3L485.0 220.0L479.7 220.0L475.8 221.1L470.5 222.9L467.9 224.0L465.3 223.2L461.3 222.9L457.4 224.0L453.4 225.0L449.5 222.9L445.5 219.5L442.9 218.5L440.3 216.9L438.5 214.3L438.2 211.6L435.0 209.0L433.7 207.7L431.1 205.1L429.3 204.0L429.0 201.1L427.1 198.0L429.8 194.5L430.3 189.3L430.6 185.3L429.0 181.4L428.5 180.6L430.6 176.1L433.7 171.4L435.0 168.2L437.7 164.8L439.2 163.3L444.2 160.9L446.9 159.0L447.7 156.4L447.4 153.8L449.5 150.6L454.7 147.7L456.1 146.4ZM602.7 268.1L605.9 277.3L603.3 282.6L600.6 290.5L597.5 301.0L595.4 302.8L591.4 303.6L588.0 300.5L587.0 294.4L589.6 289.2L588.8 282.6L591.4 278.7L596.7 276.8L599.3 272.9ZM759.7 232.7L761.0 231.3L764.9 232.1L765.7 229.2L770.2 228.2L772.8 224.8L776.8 222.1L780.2 218.2L782.5 220.0L786.5 222.7L783.3 225.3L782.5 228.7L785.4 234.0L782.5 235.3L782.0 238.7L779.4 240.5L779.4 245.3L778.1 247.1L774.1 247.4L770.2 245.3L766.8 245.3L762.8 244.0L762.3 240.5L759.7 237.4ZM817.5 238.7L821.4 237.7L825.4 238.7L825.9 243.2L828.0 245.3L832.0 242.4L835.9 240.8L843.8 243.4L853.0 246.6L856.4 249.7L860.9 252.4L861.7 255.0L859.0 255.0L862.2 258.9L868.8 263.7L866.1 263.7L860.9 262.9L856.9 258.9L853.0 256.8L849.0 260.3L843.8 260.5L839.8 257.6L835.9 258.4L837.2 255.0L835.9 251.1L830.6 248.7L825.4 246.9L822.8 247.1L822.0 244.5L824.9 242.6L820.1 242.4ZM771.5 294.4L773.3 293.9L778.1 291.3L784.6 290.0L791.2 288.1L794.6 283.9L794.4 281.3L797.8 282.1L799.1 279.5L803.0 274.7L807.0 272.9L809.6 275.5L813.6 275.8L814.9 271.6L817.0 269.2L821.4 268.4L822.0 266.6L828.0 268.7L832.7 268.7L830.6 271.6L829.3 276.0L833.3 278.1L838.5 281.3L842.5 282.9L845.1 277.3L845.6 272.1L846.4 266.8L847.7 264.7L850.4 269.5L850.4 274.2L855.1 276.0L856.9 282.6L857.7 286.5L863.5 289.7L866.1 294.4L869.5 298.4L874.8 303.1L875.9 308.9L876.9 312.0L875.3 318.1L872.7 322.8L870.1 326.0L868.2 331.2L867.4 335.2L862.2 336.2L857.7 339.1L854.3 337.3L850.4 338.6L845.1 337.3L841.2 335.2L839.8 331.2L835.9 330.5L837.2 328.1L835.4 323.9L834.6 326.0L833.3 329.1L830.6 328.1L828.8 327.6L825.9 323.4L820.1 320.7L812.2 319.7L804.4 321.5L799.1 323.4L797.8 325.7L788.6 325.7L783.3 328.6L776.8 327.0L775.4 326.5L777.3 320.7L775.4 315.5L773.3 308.9L771.5 305.0L771.5 301.0Z"/>
<path d="M-21.0 442.4L0.0 442.4L26.3 443.0L52.6 441.7L78.9 437.7L105.1 433.8L131.4 431.9L157.7 431.1L184.0 432.5L210.3 428.5L236.6 428.5L262.9 429.0L276.0 425.9L294.4 415.4L302.3 408.8L312.8 404.8L323.3 403.0L318.1 406.2L314.1 410.1L310.2 415.4L312.8 420.6L312.8 425.9L315.4 431.1L310.2 433.8L328.6 440.3L354.9 441.7L378.5 441.7L394.3 437.7L407.4 433.8L425.8 428.5L441.6 424.6L452.1 422.7L473.1 419.3L499.4 420.6L525.7 420.6L552.0 418.0L565.2 418.8L578.3 416.7L591.4 414.6L604.6 411.4L617.7 410.1L630.9 413.5L644.0 414.8L657.2 416.7L662.4 419.3L670.3 419.3L678.2 416.7L683.4 414.1L696.6 411.9L709.7 411.4L722.9 410.1L736.0 409.6L749.2 410.9L762.3 410.1L775.4 411.4L788.6 411.9L801.7 410.9L814.9 410.1L828.0 410.1L841.2 411.9L854.3 414.1L867.4 416.7L880.6 418.8L893.7 421.9L906.9 423.3L920.0 425.9L909.5 432.5L904.2 436.4L909.5 441.1L920.0 441.1L946.3 442.4L967.3 442.4L967.3 499.5L-21.0 499.5Z"/>
</g>
<g id="landR">
<path fill-opacity="0.06" d="M897.1 263.7L899.8 264.7L899.0 265.3L897.1 264.2Z"/>
<path fill-opacity="0.08" d="M884.5 254.2L887.2 256.1L886.4 256.3L884.3 254.7ZM889.8 256.6L893.2 258.7L892.7 259.2L889.5 257.4ZM892.9 261.0L895.8 262.4L895.0 262.9L892.7 261.8ZM895.6 258.7L897.4 261.6L896.6 261.6L895.0 259.2Z"/>
<path fill-opacity="0.1" d="M-2.6 48.6L6.3 49.2L5.3 50.2L-2.6 50.2ZM942.4 49.7L948.9 48.6L948.9 50.2L943.7 50.5ZM33.1 78.3L37.6 78.1L37.6 79.4L34.2 79.4ZM63.1 183.5L65.7 184.3L66.0 185.6L63.9 186.7L63.1 185.1ZM654.0 364.6L658.5 365.7L657.9 367.0L654.3 366.7ZM911.1 276.0L912.9 276.6L914.2 280.0L912.7 279.2Z"/>
<path fill-opacity="0.12" d="M591.4 24.7L599.3 23.7L609.8 24.2L607.2 25.5L596.7 25.5ZM879.8 251.1L883.0 254.5L881.9 254.7L879.5 252.1Z"/>
<path fill-opacity="0.15" d="M312.3 372.5L315.4 371.2L319.4 371.2L321.7 372.5L319.1 374.1L314.6 374.1ZM21.8 69.9L26.3 69.1L29.7 70.2L26.3 70.7ZM939.2 282.3L942.6 282.6L942.4 284.4L939.2 284.4Z"/>
<path fill-opacity="0.2" d="M296.5 188.0L300.7 188.2L300.2 189.5L296.5 189.5ZM535.2 143.0L542.0 143.8L542.0 144.6L535.2 144.1ZM869.5 243.4L874.0 245.8L875.3 249.0L874.0 247.6L870.1 244.5ZM904.2 289.7L909.5 293.1L912.1 295.2L909.5 295.0L904.8 291.3Z"/>
<path fill-opacity="0.22" d="M249.7 53.9L257.6 53.9L260.2 57.8L257.6 61.8L247.1 63.1L249.7 63.1L260.2 68.4L268.1 67.0L278.6 67.0L281.3 63.1L281.3 57.8L270.7 56.5L262.9 52.6L249.7 52.6Z"/>
<path fill-opacity="0.25" d="M123.5 94.6L127.0 94.9L128.3 99.4L125.4 97.3Z"/>
<path fill-opacity="0.3" d="M267.3 188.2L272.6 188.8L272.1 189.8L267.6 189.5ZM67.0 85.4L73.1 84.1L72.3 86.2L68.3 87.3ZM833.3 38.1L846.4 36.8L867.4 38.1L862.2 40.0L846.4 40.0ZM495.8 123.8L498.1 123.8L497.9 127.5L496.0 127.2ZM558.1 144.6L563.8 143.0L562.5 145.4L559.1 145.6ZM781.2 214.3L787.3 206.9L787.8 209.0L782.0 214.8Z"/>
<path fill-opacity="0.33" d="M141.9 49.9L144.6 39.4L163.0 34.2L197.1 30.2L223.4 22.3L236.6 17.9L289.1 16.8L315.4 19.2L302.3 24.2L283.9 28.9L270.7 34.2L265.5 40.7L270.7 45.2L249.7 51.8L236.6 56.5L218.2 57.8L197.1 57.3L170.9 57.8L157.7 53.9Z"/>
<path fill-opacity="0.35" d="M808.3 231.3L810.9 232.7L810.9 237.9L808.8 237.9L808.3 234.0ZM809.6 244.5L817.0 244.5L816.2 246.3L809.6 245.8Z"/>
<path fill-opacity="0.4" d="M713.7 27.3L722.9 23.4L736.0 25.8L734.7 30.0L720.2 30.0ZM778.1 258.7L786.0 258.4L796.5 258.2L795.9 259.7L786.0 260.0L778.1 260.0ZM863.5 251.1L867.4 251.1L872.7 247.6L873.5 249.7L868.8 253.2L863.5 251.8ZM218.5 38.6L227.2 38.0L226.6 40.4L219.7 40.4Z"/>
<path fill-opacity="0.45" d="M608.5 48.6L612.5 44.7L617.7 39.4L630.9 36.0L651.9 34.2L653.2 36.0L633.5 38.9L624.3 43.4L624.3 47.3L623.0 50.7L615.1 50.5ZM517.8 82.3L522.6 80.2L521.8 78.3L518.4 76.2L519.2 72.8L523.1 70.2L529.1 67.0L531.0 64.1L536.2 63.6L539.7 64.9L537.6 66.2L529.1 71.0L529.1 74.1L529.7 77.3L533.6 79.1L541.5 77.8L548.1 77.6L552.0 79.1L546.8 80.2L541.5 79.9L534.9 81.0L534.9 82.3L537.0 83.3L537.0 86.0L534.9 86.8L530.2 85.2L528.4 87.3L528.4 91.5L524.4 93.6L521.5 92.5L515.2 93.9L510.7 94.9L505.5 93.9L502.1 93.9L500.8 90.7L506.3 88.9L507.3 91.0L510.5 91.0L511.3 89.1L515.2 88.6L516.5 86.0ZM195.3 28.6L207.2 28.6L211.0 31.1L202.2 31.7Z"/>
<path fill-opacity="0.5" d="M502.1 27.6L510.0 26.3L525.7 25.5L544.1 25.8L536.2 28.9L523.1 30.2L528.4 32.9L517.8 35.2L510.0 32.9ZM494.7 128.8L498.6 128.8L498.4 133.5L495.5 134.1ZM800.4 203.7L803.0 205.1L802.5 209.5L800.4 209.0ZM793.8 205.6L797.0 206.4L797.3 211.6L795.2 211.6L793.8 209.0ZM797.8 263.7L801.7 260.3L807.5 258.7L805.7 260.8L800.4 263.4ZM150.3 36.1L156.0 32.9L167.8 32.3L167.2 34.8L159.1 37.3ZM174.7 31.7L179.7 29.2L184.7 30.5L182.2 32.9ZM203.5 36.1L214.7 35.2L216.0 39.2L207.2 39.8Z"/>
<path fill-opacity="0.55" d="M171.4 153.3L172.2 157.7L176.9 163.0L181.4 169.6L184.0 173.5L185.3 176.1L189.3 170.9L185.3 166.9L182.7 163.0L177.4 159.0L174.8 154.3ZM206.0 42.9L217.2 42.3L219.7 46.7L213.5 49.2L207.2 46.7Z"/>
<path fill-opacity="0.6" d="M236.6 17.9L236.6 40.7L265.5 40.7L270.7 34.2L283.9 28.9L302.3 24.2L315.4 19.2L289.1 16.8ZM584.9 202.4L587.0 205.1L587.0 206.4L590.1 203.5L587.5 203.2L586.2 201.1ZM821.4 147.2L826.7 146.7L825.9 148.5L822.8 150.4ZM791.2 170.4L793.8 170.9L791.2 178.8L789.1 176.1ZM165.3 38.6L169.7 36.1L182.2 36.1L184.7 34.8L188.5 36.1L194.7 38.0L193.5 39.8L182.2 39.8L174.7 41.1ZM219.7 45.4L229.7 42.9L236.0 46.7L232.2 51.7L224.7 50.4ZM214.7 53.6L222.2 52.9L225.3 56.1L219.7 58.6Z"/>
<path fill-opacity="0.7" d="M244.5 64.4L249.7 63.1L260.2 68.4L261.5 69.7L252.3 71.0L244.5 69.1ZM506.0 136.7L513.9 136.2L512.8 140.1L506.3 138.0ZM846.4 93.9L849.0 97.3L849.8 102.5L850.4 107.0L849.0 112.3L850.4 114.4L846.4 115.7L846.4 110.4L846.4 103.8L845.6 99.9ZM814.9 148.5L819.3 148.3L818.8 153.8L816.2 154.6L814.9 151.2ZM758.9 186.1L763.6 183.8L764.9 185.1L761.0 188.8ZM142.8 46.1L145.3 41.7L157.2 40.4L167.2 42.3L172.2 45.4L164.7 46.7L161.0 49.2L148.5 49.8ZM219.7 25.4L228.5 22.9L236.0 24.2L236.0 30.5L227.2 29.8Z"/>
<path fill-opacity="0.75" d="M446.9 100.9L452.1 100.7L456.6 99.4L457.4 96.0L458.2 93.3L456.1 91.5L452.1 91.5L450.8 93.3L446.9 94.1L448.2 96.7L446.1 99.4ZM559.9 61.3L565.2 61.3L574.4 63.1L580.9 61.8L580.9 59.7L588.8 62.6L584.9 62.0L579.6 63.6L578.3 66.5L570.4 65.7L571.7 68.4L564.6 67.0L563.8 63.6Z"/>
<path fill-opacity="0.8" d="M249.7 179.0L255.0 176.1L261.5 175.9L270.7 180.1L276.0 182.2L278.1 183.5L269.4 184.3L268.1 182.4L262.9 179.6L257.6 177.7L252.3 179.3ZM277.6 188.2L281.3 184.3L289.1 184.5L293.4 187.7L287.8 188.8L285.2 190.1ZM500.8 90.7L502.1 93.9L505.5 93.9L510.7 94.9L515.2 93.9L521.5 92.5L524.4 93.6L528.4 91.5L528.4 87.3L520.5 86.8L516.5 86.0L515.2 88.6L511.3 89.1L510.5 91.0L507.3 91.0L506.3 88.9ZM533.6 79.1L541.5 77.8L548.1 77.6L552.0 79.1L546.8 80.2L541.5 79.9L534.9 81.0ZM530.2 85.2L534.9 86.8L537.0 86.0L537.0 83.3L534.9 82.3L531.0 83.3ZM501.0 84.9L503.4 84.1L506.3 88.9L507.3 91.0L505.5 93.9L502.1 93.9L498.9 93.1L498.9 91.5L501.5 89.1L500.2 88.1ZM683.4 210.8L688.2 216.9L686.1 220.3L683.4 220.8L682.9 215.6ZM789.9 188.0L794.4 188.0L794.4 193.2L792.5 197.2L793.8 199.8L799.1 202.4L799.1 203.7L795.2 201.1L791.2 200.6L789.9 198.5L788.6 194.5ZM793.8 218.2L797.8 213.7L803.0 210.8L805.7 215.6L804.9 220.0L803.0 221.6L799.1 219.5ZM749.7 254.5L753.1 252.4L758.4 253.7L763.6 254.5L764.9 253.4L769.4 254.7L774.1 256.8L774.1 259.5L766.2 258.4L758.4 257.1L753.1 256.1ZM787.3 251.1L786.0 245.8L786.0 241.9L788.1 236.6L789.1 234.5L791.2 233.2L797.8 234.2L801.7 232.1L800.4 235.5L796.5 235.5L791.2 235.5L789.1 239.0L792.5 239.0L797.3 238.7L795.9 240.5L792.5 241.6L795.2 245.3L796.5 247.1L795.9 249.7L793.8 249.2L792.5 246.6L791.2 243.7L789.6 244.5L789.6 251.1ZM853.5 343.6L862.2 343.9L863.0 347.0L860.9 351.0L856.9 351.0L854.8 347.5ZM927.1 327.0L931.8 331.8L935.3 333.3L935.8 335.4L941.8 335.4L940.5 339.7L938.4 340.4L937.9 343.1L933.9 346.0L932.6 345.2L933.7 342.3L930.0 339.9L932.6 336.5L931.8 333.3L927.9 328.6Z"/>
<path fill-opacity="0.85" d="M458.2 104.9L463.9 104.4L470.5 103.3L476.6 102.0L475.8 100.9L477.6 98.1L473.9 97.3L473.1 95.4L470.0 93.1L467.9 89.9L465.3 89.4L467.9 85.2L463.9 84.9L465.3 82.5L460.0 82.5L457.4 85.4L458.7 89.4L460.0 92.0L463.9 92.3L465.3 94.6L465.3 96.2L461.3 96.7L462.1 99.1L459.5 100.4L463.9 101.2L465.3 102.0ZM410.1 64.4L415.3 62.0L425.8 62.6L433.7 62.3L437.4 65.7L433.7 67.6L424.0 69.9L414.0 68.6L415.3 66.8ZM841.2 127.5L843.8 123.0L845.6 117.2L850.4 120.1L855.1 120.1L855.6 122.8L850.4 126.2L845.1 124.9ZM927.1 343.1L931.1 345.2L927.9 349.6L923.4 353.1L922.6 357.0L918.7 359.1L914.2 358.6L910.8 357.0L915.5 352.3L921.3 349.1L925.3 344.4ZM236.0 36.1L262.2 34.8L263.5 39.2L244.7 41.1L236.0 39.2Z"/>
<path fill-opacity="0.9" d="M844.6 127.8L846.4 132.8L843.8 136.7L843.3 142.0L841.2 144.6L837.2 145.4L833.3 145.6L830.1 148.5L828.0 145.6L822.8 146.4L817.5 147.2L817.5 145.9L821.4 143.3L829.3 143.0L832.7 138.8L837.2 138.5L839.8 135.4L841.2 131.4L841.2 128.8ZM159.1 47.9L172.2 45.4L182.2 46.7L188.5 44.2L197.2 43.6L202.2 50.4L207.2 52.9L203.5 57.3L188.5 56.1L173.5 57.3L163.5 52.3L169.7 51.1L162.2 50.4Z"/>
<path fill-opacity="0.95" d="M311.5 61.3L304.9 57.8L294.4 52.6L283.9 48.6L268.1 44.7L260.2 42.9L247.1 42.6L236.6 43.4L239.2 49.9L249.7 52.6L262.9 52.6L270.7 56.5L281.3 57.8L281.3 63.1L278.6 67.0L268.1 67.0L268.1 68.4L276.0 68.4L283.9 71.0L294.4 72.8L299.7 73.9L302.3 71.8L297.0 69.7L302.3 67.0L304.9 65.7ZM236.6 35.5L262.9 36.3L270.7 31.5L281.3 28.9L302.3 23.7L310.2 19.7L289.1 18.1L262.9 18.4L236.6 21.0L231.3 25.0L244.5 27.6L244.5 31.5ZM723.7 221.9L729.4 222.9L732.1 226.1L736.8 230.0L740.0 231.3L743.9 234.8L746.0 237.9L747.8 241.3L751.8 244.5L751.8 251.8L749.2 251.8L746.5 249.7L742.1 247.1L738.6 243.2L736.8 238.7L733.4 235.3L732.1 231.9L728.1 228.7L724.2 224.0Z"/>
<path fill-opacity="1" d="M31.5 64.1L42.1 61.8L47.3 62.3L43.4 59.1L35.5 57.0L44.7 53.9L61.8 49.2L78.9 51.3L102.5 53.4L118.3 55.2L136.7 52.1L144.6 53.9L157.7 53.9L170.9 57.8L184.0 58.4L189.3 57.3L205.0 58.4L215.5 56.5L223.4 48.6L228.7 52.6L236.6 55.2L241.8 57.8L249.7 53.9L257.6 53.9L260.2 57.8L257.6 61.8L247.1 63.1L244.5 67.0L236.6 68.4L228.7 73.6L224.7 78.9L228.7 82.8L230.0 86.8L241.8 88.1L249.7 91.2L256.8 92.0L257.6 98.6L262.9 102.0L265.5 99.9L266.8 93.3L270.7 89.4L272.1 84.1L268.1 81.5L268.1 76.2L268.1 72.3L278.6 72.8L289.1 76.2L289.1 81.5L294.4 82.8L301.0 80.2L303.6 77.6L310.2 84.1L315.4 90.7L323.3 96.0L325.9 99.9L320.7 101.7L315.4 104.6L302.3 104.6L297.0 107.0L289.1 112.3L294.4 108.6L299.7 107.3L303.6 107.8L302.3 110.4L303.6 114.4L311.5 116.2L315.4 113.6L312.8 117.5L304.9 120.1L299.7 121.7L299.7 119.6L303.6 117.0L297.0 118.3L293.1 120.1L289.1 121.7L287.0 124.9L289.1 127.0L285.2 127.8L278.6 129.9L278.6 132.8L274.7 135.4L273.4 139.3L274.2 143.3L274.7 144.1L270.7 145.9L265.5 149.1L260.2 153.8L259.4 157.7L261.5 163.0L262.9 166.9L262.1 170.1L259.7 170.1L257.6 166.4L255.5 163.0L255.0 159.8L252.3 157.7L248.4 158.5L244.5 156.7L239.2 156.9L238.4 159.8L233.9 159.6L227.4 158.5L223.4 159.8L218.2 163.0L217.4 168.2L216.3 173.5L216.1 178.0L218.2 182.7L220.8 186.7L224.7 188.8L230.0 188.0L233.9 186.7L235.3 181.4L241.8 180.1L244.5 180.6L243.1 185.3L241.8 189.3L239.7 194.5L241.8 195.1L247.1 194.8L252.3 195.3L254.4 197.2L253.7 202.4L253.1 207.7L256.3 211.6L260.2 213.5L264.2 211.6L268.1 212.4L270.7 215.0L269.4 217.4L267.3 215.6L264.2 213.7L261.5 217.4L257.6 215.0L253.7 214.3L249.7 210.3L247.6 207.7L243.1 202.4L237.9 201.1L232.6 199.8L227.4 195.9L223.4 194.5L218.2 195.1L211.6 192.7L205.0 189.3L199.8 186.7L195.8 183.2L196.4 178.8L193.2 174.8L189.3 170.9L185.3 166.9L182.7 163.0L177.4 159.0L174.8 154.3L171.4 153.3L172.2 157.7L176.9 163.0L181.4 169.6L184.0 173.5L185.3 176.1L183.5 175.6L178.7 170.9L177.4 166.9L173.5 164.8L170.9 163.0L172.2 160.4L168.2 156.4L165.6 151.2L161.7 147.2L156.4 145.9L153.0 140.6L151.1 137.2L147.7 132.8L146.4 130.1L146.7 123.6L147.2 115.7L145.4 109.6L149.8 107.8L144.6 105.2L138.0 102.5L136.7 98.6L131.4 93.3L127.5 90.7L122.2 85.4L117.0 82.8L111.7 82.0L106.5 79.4L99.9 78.9L92.0 77.8L84.1 77.6L80.2 79.4L74.9 80.7L74.9 76.2L69.7 80.2L67.0 82.8L61.8 86.0L56.5 88.6L51.3 90.7L44.7 92.5L40.0 93.1L47.3 90.2L52.6 88.6L57.8 85.4L59.1 82.3L55.2 82.3L47.3 81.5L47.3 78.9L40.7 77.6L36.8 74.9L39.4 71.5L44.7 70.5L49.9 68.9L49.9 67.0L44.7 67.0L36.8 67.0ZM135.9 103.3L143.3 104.4L148.5 109.1L144.6 108.3L140.6 106.5L136.7 105.2ZM281.3 31.0L294.4 26.3L310.2 22.3L341.7 20.2L368.0 17.6L394.3 17.1L415.3 19.7L420.6 22.3L441.6 22.3L428.5 26.3L423.2 31.5L424.5 36.8L420.6 40.7L415.3 44.7L415.3 49.9L410.1 52.6L414.0 52.1L404.8 56.5L394.3 57.8L386.4 60.5L378.5 63.6L369.3 64.4L365.4 68.4L361.4 73.6L360.1 77.6L357.5 78.9L352.2 76.8L345.7 75.7L341.7 71.0L337.8 67.0L333.8 61.8L332.5 57.8L339.1 53.9L329.9 52.6L329.9 48.6L325.9 44.7L322.0 39.4L315.4 36.8L299.7 36.8L289.1 34.2ZM317.3 111.5L320.7 106.5L323.8 101.7L327.3 101.2L326.5 105.2L332.5 107.0L334.6 111.7L332.5 114.1L327.3 113.3L325.9 111.5ZM270.0 213.7L273.4 212.2L274.7 208.7L277.3 207.7L281.3 206.4L285.2 204.0L285.7 206.4L285.2 208.2L289.1 206.4L289.1 204.8L293.1 206.9L294.4 208.7L299.7 208.7L303.6 209.5L310.2 208.5L312.8 210.8L314.1 213.5L318.1 215.6L322.0 220.0L328.6 221.1L333.8 222.1L337.8 224.8L340.4 231.3L341.7 235.3L344.3 237.1L347.0 238.4L352.2 239.2L356.2 243.2L362.7 244.0L368.0 244.2L371.9 246.6L375.9 249.2L380.4 250.5L381.7 256.3L380.4 261.6L375.9 266.8L371.9 270.8L370.6 276.0L370.6 282.6L368.0 288.7L365.4 294.4L362.7 296.8L356.2 297.6L350.9 300.2L346.2 303.6L345.1 308.9L343.0 312.8L339.1 318.1L335.1 323.4L332.0 326.8L328.6 328.3L323.3 327.3L319.9 326.5L323.3 331.2L322.0 336.5L316.7 338.6L310.2 339.1L309.4 343.9L302.3 344.4L304.9 348.3L301.5 352.3L295.7 357.5L299.7 361.5L295.7 366.7L291.8 370.7L293.1 374.1L293.1 375.9L297.0 379.9L301.8 380.7L298.3 381.7L291.8 382.0L283.9 379.3L278.6 375.1L275.2 369.4L274.7 362.8L277.3 357.5L279.9 351.0L279.2 345.7L279.9 340.4L280.5 335.2L282.6 329.9L284.9 323.4L285.5 315.5L286.5 308.9L287.8 302.3L288.4 294.4L288.6 286.5L288.1 284.7L283.9 281.3L276.0 277.3L272.6 273.4L270.0 268.1L266.8 261.6L263.4 255.0L260.2 252.4L259.4 248.4L262.1 245.5L262.9 243.2L260.2 242.4L260.8 239.2L262.6 235.3L265.5 232.7L266.8 230.0L270.0 226.6L269.4 222.1L269.4 218.2L268.4 217.4ZM458.4 142.0L456.6 140.1L453.7 138.8L449.8 139.3L450.0 135.4L448.2 134.6L450.0 130.1L450.0 126.2L448.7 123.6L452.1 121.7L458.7 122.2L463.9 122.5L468.4 122.5L470.0 119.6L470.0 115.7L467.4 112.5L461.3 110.7L460.8 109.1L465.3 108.3L468.9 108.8L468.4 105.9L470.0 106.5L473.7 106.5L477.1 104.6L477.6 102.8L482.4 101.5L484.5 99.4L485.8 97.3L488.9 96.0L491.6 95.7L495.5 95.2L496.0 93.3L494.7 90.7L494.7 86.8L498.9 85.4L501.0 84.9L500.2 88.1L501.5 89.1L498.9 91.5L498.9 93.1L502.1 93.9L505.5 93.9L509.4 93.9L510.7 94.9L515.2 93.9L521.5 92.5L524.4 93.6L528.4 91.5L528.4 87.3L530.2 85.2L534.9 86.8L537.0 86.0L537.0 83.3L534.9 82.3L534.9 81.0L541.5 79.9L546.8 80.2L552.0 79.1L548.1 77.6L541.5 77.8L533.6 79.1L529.7 77.3L529.1 74.1L529.1 71.0L537.6 66.2L539.7 64.9L536.2 63.6L531.0 64.1L529.1 67.0L523.1 70.2L519.2 72.8L518.4 76.2L521.8 78.3L522.6 80.2L517.8 82.3L516.5 86.0L515.2 88.6L511.3 89.1L510.5 91.0L507.3 91.0L506.3 88.9L503.4 84.1L502.1 81.5L500.8 80.7L498.1 82.0L494.2 83.9L491.6 84.1L487.9 82.0L486.3 78.3L486.3 74.1L490.2 71.5L495.5 69.7L500.8 67.0L504.7 64.4L507.3 61.0L511.3 57.8L516.5 55.7L521.8 53.1L529.7 52.1L536.2 49.9L541.5 49.7L546.8 49.9L554.6 51.8L549.4 53.1L556.0 53.4L561.2 54.2L567.8 54.7L574.4 57.0L580.9 59.7L580.9 61.8L574.4 63.1L565.2 61.3L559.9 61.3L563.8 63.6L564.6 67.0L571.7 68.4L570.4 65.7L578.3 66.5L579.6 63.6L584.9 62.0L588.8 62.6L589.6 59.1L587.5 56.5L594.1 57.8L595.4 60.5L600.6 58.4L612.5 56.5L616.4 57.0L625.6 55.7L632.2 55.2L632.2 53.1L642.7 54.4L649.3 55.7L654.5 56.5L649.3 52.6L649.3 48.6L654.5 45.0L663.7 45.2L665.0 48.6L663.7 53.9L663.7 56.5L667.7 57.8L669.0 52.6L667.7 47.3L671.6 46.5L678.2 46.5L684.8 43.4L684.8 47.3L691.3 48.1L688.7 51.3L694.0 51.3L694.0 43.4L701.8 42.1L701.8 39.4L715.0 37.3L725.5 36.3L736.0 35.5L746.5 32.3L754.4 34.2L751.8 36.0L767.6 35.5L771.5 37.6L762.3 41.3L770.2 42.6L783.3 43.4L797.8 43.4L807.0 43.4L813.6 46.0L814.9 49.9L822.8 48.6L833.3 48.6L841.2 45.5L843.8 45.2L856.9 46.3L867.4 47.3L872.7 49.9L883.2 49.9L892.4 50.5L893.7 53.4L906.9 53.6L914.8 52.6L922.6 53.9L921.3 55.7L933.2 53.1L946.3 55.5L964.7 55.5L964.7 65.7L946.3 65.7L941.0 67.0L939.7 66.5L943.7 71.0L945.0 72.3L933.2 73.6L925.3 76.2L920.0 78.9L909.5 78.9L902.9 77.6L904.2 81.5L901.6 84.1L899.0 85.4L901.6 89.4L899.0 92.0L893.7 97.3L889.8 97.8L885.1 102.5L882.4 97.3L881.9 90.7L884.5 85.4L889.8 81.5L896.4 77.6L901.6 73.6L893.7 74.9L885.8 74.7L879.3 79.4L872.7 81.5L864.8 80.2L849.0 80.7L841.2 85.4L834.6 90.7L829.3 93.1L834.6 94.6L843.8 96.5L842.5 101.2L842.5 105.2L841.2 109.6L837.2 114.4L830.6 119.6L824.1 123.6L818.8 123.6L816.7 125.4L814.1 127.5L813.6 130.1L808.3 132.8L810.9 135.4L813.3 139.3L813.3 143.3L809.6 145.1L805.7 146.2L805.1 143.3L806.2 139.3L804.4 137.5L801.7 136.7L802.3 132.8L799.9 131.4L793.8 133.5L792.0 134.1L793.8 130.1L791.2 129.3L786.0 133.5L782.8 134.1L784.6 136.7L786.0 138.5L790.7 137.2L795.2 138.5L791.2 140.6L786.7 143.8L788.6 146.4L791.2 151.2L793.8 153.3L792.5 155.6L793.8 158.3L792.5 162.2L788.6 166.9L786.0 170.4L782.0 173.5L778.1 176.1L773.3 178.0L770.2 178.8L764.9 180.3L762.3 183.2L761.5 180.1L757.8 179.8L753.6 182.7L751.3 185.9L754.4 191.1L758.4 194.5L760.2 199.8L760.5 205.1L757.0 207.7L754.4 209.3L753.1 211.6L749.2 214.0L748.6 210.3L745.2 209.0L742.6 205.1L738.6 203.2L737.3 201.1L736.0 203.7L734.2 209.0L735.5 212.2L737.3 216.9L740.0 218.7L742.6 220.8L744.9 224.8L745.2 229.2L747.1 232.9L744.9 232.9L740.0 229.5L737.3 226.1L736.8 220.8L734.7 217.4L731.5 215.6L731.5 211.6L732.6 206.4L732.1 201.1L730.0 195.9L729.4 193.2L726.8 193.2L723.7 195.1L721.0 194.0L721.6 189.3L719.5 185.3L715.5 181.4L714.5 178.0L711.0 178.0L707.1 179.3L701.8 180.3L700.5 184.0L696.6 185.3L692.6 189.3L689.5 192.7L684.2 195.9L683.7 201.1L682.9 206.4L682.1 209.5L678.7 213.5L676.9 215.3L674.2 212.9L672.4 206.4L669.8 202.4L667.7 195.9L665.0 189.3L664.5 185.3L664.3 181.4L662.9 180.9L659.8 181.9L654.5 178.0L657.9 176.4L653.2 174.8L650.1 171.4L648.0 169.8L641.4 170.1L634.8 170.4L628.2 169.8L623.8 168.8L622.5 165.6L616.4 166.7L612.5 165.6L608.5 163.0L605.9 159.0L602.0 156.9L599.3 157.7L600.1 160.9L602.7 164.3L605.1 166.9L606.7 169.6L607.7 168.0L608.8 170.9L608.3 172.5L611.2 173.0L615.1 173.0L619.0 170.1L621.1 167.7L621.7 171.4L624.3 174.0L627.7 174.8L630.3 177.4L626.9 182.7L625.1 186.7L621.7 189.3L617.7 191.9L610.4 194.5L602.0 199.0L591.4 203.0L587.5 203.2L586.2 201.1L585.7 197.2L584.9 193.2L580.9 188.0L576.2 181.4L574.4 174.8L570.9 170.9L567.8 166.9L565.2 163.0L564.6 159.0L563.3 163.0L563.0 163.5L560.7 161.7L558.8 158.0L558.1 154.6L563.0 154.3L565.2 150.4L567.3 145.9L567.8 142.0L567.8 140.1L563.8 140.1L559.9 141.7L554.6 140.1L553.3 141.2L549.4 141.2L545.4 139.9L544.6 138.0L542.3 135.4L543.3 132.8L542.0 131.4L542.0 130.1L541.5 129.3L537.6 129.1L536.2 130.7L533.6 130.7L532.8 132.8L534.9 135.4L536.2 136.7L534.4 137.2L534.1 140.6L532.3 140.6L530.2 139.9L528.9 137.2L528.4 135.4L527.0 133.3L524.4 130.7L524.4 127.0L521.8 124.9L517.8 123.0L513.9 120.9L512.6 118.3L510.7 117.5L509.2 117.8L508.9 116.5L505.7 117.2L505.5 119.6L508.6 122.0L510.5 124.9L515.2 126.4L515.2 127.8L520.5 129.9L521.8 131.2L520.5 131.7L517.8 130.1L516.8 132.0L518.1 134.1L516.5 135.4L515.2 137.0L514.4 136.7L514.7 134.1L513.4 131.4L511.3 129.9L509.2 128.3L505.5 127.0L502.1 124.9L500.8 123.6L500.0 121.2L496.8 120.1L492.9 121.5L488.9 123.3L485.8 122.5L482.4 122.8L481.0 124.9L481.6 126.4L478.4 128.0L475.3 129.3L473.1 132.0L472.4 133.3L473.7 134.9L471.3 137.8L467.9 139.9L461.6 140.1ZM-18.4 55.5L0.0 55.5L7.9 57.3L18.4 60.5L26.3 63.1L21.0 66.2L18.4 67.6L10.5 64.9L3.9 62.3L0.0 65.7L-18.4 65.7ZM457.6 142.5L467.9 144.3L473.1 142.5L481.0 139.6L491.6 139.3L499.4 138.5L502.1 139.3L500.8 142.0L501.5 145.9L499.4 147.2L502.1 149.3L506.0 150.1L513.1 151.7L515.2 154.3L520.5 156.4L524.4 156.7L525.7 153.8L527.0 151.2L531.0 150.1L534.9 151.9L538.9 153.5L545.4 154.6L549.4 155.4L554.6 153.8L558.1 154.6L558.8 158.0L560.7 162.5L562.5 165.6L565.2 171.4L567.0 176.1L570.4 180.1L570.9 186.7L574.4 189.3L577.0 195.9L580.9 198.5L584.9 202.4L587.0 205.1L587.0 206.4L590.1 209.0L596.7 207.4L602.0 206.9L607.7 205.6L607.7 209.0L605.9 212.9L603.3 218.2L599.3 224.8L594.1 230.0L588.8 234.0L583.6 239.2L580.9 242.4L578.8 244.5L577.0 249.0L575.1 253.7L577.0 257.6L577.0 261.6L579.6 264.2L579.6 270.8L580.1 276.0L577.0 280.0L570.4 283.4L566.5 286.5L564.6 289.2L565.9 294.4L566.5 299.7L559.9 303.6L559.4 307.6L558.1 312.3L554.6 315.5L552.0 318.9L547.5 322.8L542.8 325.5L538.9 326.0L532.3 326.2L525.7 328.1L521.5 326.5L521.0 322.8L518.6 316.8L516.5 311.8L512.6 306.3L511.3 297.1L508.6 291.8L504.7 283.9L504.2 278.7L505.5 274.7L508.6 269.5L509.4 265.5L508.1 260.3L505.5 252.4L504.7 249.7L502.3 246.9L498.1 243.2L496.3 238.7L498.1 235.3L498.1 231.3L498.9 228.2L496.8 226.1L495.5 224.5L491.6 225.0L488.9 225.3L485.0 220.0L479.7 220.0L475.8 221.1L470.5 222.9L467.9 224.0L465.3 223.2L461.3 222.9L457.4 224.0L453.4 225.0L449.5 222.9L445.5 219.5L442.9 218.5L440.3 216.9L438.5 214.3L438.2 211.6L435.0 209.0L433.7 207.7L431.1 205.1L429.3 204.0L429.0 201.1L427.1 198.0L429.8 194.5L430.3 189.3L430.6 185.3L429.0 181.4L428.5 180.6L430.6 176.1L433.7 171.4L435.0 168.2L437.7 164.8L439.2 163.3L444.2 160.9L446.9 159.0L447.7 156.4L447.4 153.8L449.5 150.6L454.7 147.7L456.1 146.4ZM602.7 268.1L605.9 277.3L603.3 282.6L600.6 290.5L597.5 301.0L595.4 302.8L591.4 303.6L588.0 300.5L587.0 294.4L589.6 289.2L588.8 282.6L591.4 278.7L596.7 276.8L599.3 272.9ZM759.7 232.7L761.0 231.3L764.9 232.1L765.7 229.2L770.2 228.2L772.8 224.8L776.8 222.1L780.2 218.2L782.5 220.0L786.5 222.7L783.3 225.3L782.5 228.7L785.4 234.0L782.5 235.3L782.0 238.7L779.4 240.5L779.4 245.3L778.1 247.1L774.1 247.4L770.2 245.3L766.8 245.3L762.8 244.0L762.3 240.5L759.7 237.4ZM817.5 238.7L821.4 237.7L825.4 238.7L825.9 243.2L828.0 245.3L832.0 242.4L835.9 240.8L843.8 243.4L853.0 246.6L856.4 249.7L860.9 252.4L861.7 255.0L859.0 255.0L862.2 258.9L868.8 263.7L866.1 263.7L860.9 262.9L856.9 258.9L853.0 256.8L849.0 260.3L843.8 260.5L839.8 257.6L835.9 258.4L837.2 255.0L835.9 251.1L830.6 248.7L825.4 246.9L822.8 247.1L822.0 244.5L824.9 242.6L820.1 242.4ZM771.5 294.4L773.3 293.9L778.1 291.3L784.6 290.0L791.2 288.1L794.6 283.9L794.4 281.3L797.8 282.1L799.1 279.5L803.0 274.7L807.0 272.9L809.6 275.5L813.6 275.8L814.9 271.6L817.0 269.2L821.4 268.4L822.0 266.6L828.0 268.7L832.7 268.7L830.6 271.6L829.3 276.0L833.3 278.1L838.5 281.3L842.5 282.9L845.1 277.3L845.6 272.1L846.4 266.8L847.7 264.7L850.4 269.5L850.4 274.2L855.1 276.0L856.9 282.6L857.7 286.5L863.5 289.7L866.1 294.4L869.5 298.4L874.8 303.1L875.9 308.9L876.9 312.0L875.3 318.1L872.7 322.8L870.1 326.0L868.2 331.2L867.4 335.2L862.2 336.2L857.7 339.1L854.3 337.3L850.4 338.6L845.1 337.3L841.2 335.2L839.8 331.2L835.9 330.5L837.2 328.1L835.4 323.9L834.6 326.0L833.3 329.1L830.6 328.1L828.8 327.6L825.9 323.4L820.1 320.7L812.2 319.7L804.4 321.5L799.1 323.4L797.8 325.7L788.6 325.7L783.3 328.6L776.8 327.0L775.4 326.5L777.3 320.7L775.4 315.5L773.3 308.9L771.5 305.0L771.5 301.0Z"/>
<path d="M-21.0 442.4L0.0 442.4L26.3 443.0L52.6 441.7L78.9 437.7L105.1 433.8L131.4 431.9L157.7 431.1L184.0 432.5L210.3 428.5L236.6 428.5L262.9 429.0L276.0 425.9L294.4 415.4L302.3 408.8L312.8 404.8L323.3 403.0L318.1 406.2L314.1 410.1L310.2 415.4L312.8 420.6L312.8 425.9L315.4 431.1L310.2 433.8L328.6 440.3L354.9 441.7L378.5 441.7L394.3 437.7L407.4 433.8L425.8 428.5L441.6 424.6L452.1 422.7L473.1 419.3L499.4 420.6L525.7 420.6L552.0 418.0L565.2 418.8L578.3 416.7L591.4 414.6L604.6 411.4L617.7 410.1L630.9 413.5L644.0 414.8L657.2 416.7L662.4 419.3L670.3 419.3L678.2 416.7L683.4 414.1L696.6 411.9L709.7 411.4L722.9 410.1L736.0 409.6L749.2 410.9L762.3 410.1L775.4 411.4L788.6 411.9L801.7 410.9L814.9 410.1L828.0 410.1L841.2 411.9L854.3 414.1L867.4 416.7L880.6 418.8L893.7 421.9L906.9 423.3L920.0 425.9L909.5 432.5L904.2 436.4L909.5 441.1L920.0 441.1L946.3 442.4L967.3 442.4L967.3 499.5L-21.0 499.5Z"/>
</g>
<g id="coast" fill="none" stroke="#000" stroke-width="1" stroke-linejoin="round">
<path d="M31.5 64.1L42.1 61.8L47.3 62.3L43.4 59.1L35.5 57.0L44.7 53.9L61.8 49.2L78.9 51.3L102.5 53.4L118.3 55.2L136.7 52.1L144.6 53.9L157.7 53.9L170.9 57.8L184.0 58.4L189.3 57.3L205.0 58.4L215.5 56.5L223.4 48.6L228.7 52.6L236.6 55.2L241.8 57.8L249.7 53.9L257.6 53.9L260.2 57.8L257.6 61.8L247.1 63.1L244.5 67.0L236.6 68.4L228.7 73.6L224.7 78.9L228.7 82.8L230.0 86.8L241.8 88.1L249.7 91.2L256.8 92.0L257.6 98.6L262.9 102.0L265.5 99.9L266.8 93.3L270.7 89.4L272.1 84.1L268.1 81.5L268.1 76.2L268.1 72.3L278.6 72.8L289.1 76.2L289.1 81.5L294.4 82.8L301.0 80.2L303.6 77.6L310.2 84.1L315.4 90.7L323.3 96.0L325.9 99.9L320.7 101.7L315.4 104.6L302.3 104.6L297.0 107.0L289.1 112.3L294.4 108.6L299.7 107.3L303.6 107.8L302.3 110.4L303.6 114.4L311.5 116.2L315.4 113.6L312.8 117.5L304.9 120.1L299.7 121.7L299.7 119.6L303.6 117.0L297.0 118.3L293.1 120.1L289.1 121.7L287.0 124.9L289.1 127.0L285.2 127.8L278.6 129.9L278.6 132.8L274.7 135.4L273.4 139.3L274.2 143.3L274.7 144.1L270.7 145.9L265.5 149.1L260.2 153.8L259.4 157.7L261.5 163.0L262.9 166.9L262.1 170.1L259.7 170.1L257.6 166.4L255.5 163.0L255.0 159.8L252.3 157.7L248.4 158.5L244.5 156.7L239.2 156.9L238.4 159.8L233.9 159.6L227.4 158.5L223.4 159.8L218.2 163.0L217.4 168.2L216.3 173.5L216.1 178.0L218.2 182.7L220.8 186.7L224.7 188.8L230.0 188.0L233.9 186.7L235.3 181.4L241.8 180.1L244.5 180.6L243.1 185.3L241.8 189.3L239.7 194.5L241.8 195.1L247.1 194.8L252.3 195.3L254.4 197.2L253.7 202.4L253.1 207.7L256.3 211.6L260.2 213.5L264.2 211.6L268.1 212.4L270.7 215.0L269.4 217.4L267.3 215.6L264.2 213.7L261.5 217.4L257.6 215.0L253.7 214.3L249.7 210.3L247.6 207.7L243.1 202.4L237.9 201.1L232.6 199.8L227.4 195.9L223.4 194.5L218.2 195.1L211.6 192.7L205.0 189.3L199.8 186.7L195.8 183.2L196.4 178.8L193.2 174.8L189.3 170.9L185.3 166.9L182.7 163.0L177.4 159.0L174.8 154.3L171.4 153.3L172.2 157.7L176.9 163.0L181.4 169.6L184.0 173.5L185.3 176.1L183.5 175.6L178.7 170.9L177.4 166.9L173.5 164.8L170.9 163.0L172.2 160.4L168.2 156.4L165.6 151.2L161.7 147.2L156.4 145.9L153.0 140.6L151.1 137.2L147.7 132.8L146.4 130.1L146.7 123.6L147.2 115.7L145.4 109.6L149.8 107.8L144.6 105.2L138.0 102.5L136.7 98.6L131.4 93.3L127.5 90.7L122.2 85.4L117.0 82.8L111.7 82.0L106.5 79.4L99.9 78.9L92.0 77.8L84.1 77.6L80.2 79.4L74.9 80.7L74.9 76.2L69.7 80.2L67.0 82.8L61.8 86.0L56.5 88.6L51.3 90.7L44.7 92.5L40.0 93.1L47.3 90.2L52.6 88.6L57.8 85.4L59.1 82.3L55.2 82.3L47.3 81.5L47.3 78.9L40.7 77.6L36.8 74.9L39.4 71.5L44.7 70.5L49.9 68.9L49.9 67.0L44.7 67.0L36.8 67.0ZM135.9 103.3L143.3 104.4L148.5 109.1L144.6 108.3L140.6 106.5L136.7 105.2ZM281.3 31.0L294.4 26.3L310.2 22.3L341.7 20.2L368.0 17.6L394.3 17.1L415.3 19.7L420.6 22.3L441.6 22.3L428.5 26.3L423.2 31.5L424.5 36.8L420.6 40.7L415.3 44.7L415.3 49.9L410.1 52.6L414.0 52.1L404.8 56.5L394.3 57.8L386.4 60.5L378.5 63.6L369.3 64.4L365.4 68.4L361.4 73.6L360.1 77.6L357.5 78.9L352.2 76.8L345.7 75.7L341.7 71.0L337.8 67.0L333.8 61.8L332.5 57.8L339.1 53.9L329.9 52.6L329.9 48.6L325.9 44.7L322.0 39.4L315.4 36.8L299.7 36.8L289.1 34.2ZM311.5 61.3L304.9 57.8L294.4 52.6L283.9 48.6L268.1 44.7L260.2 42.9L247.1 42.6L236.6 43.4L239.2 49.9L249.7 52.6L262.9 52.6L270.7 56.5L281.3 57.8L281.3 63.1L278.6 67.0L268.1 67.0L268.1 68.4L276.0 68.4L283.9 71.0L294.4 72.8L299.7 73.9L302.3 71.8L297.0 69.7L302.3 67.0L304.9 65.7ZM236.6 35.5L262.9 36.3L270.7 31.5L281.3 28.9L302.3 23.7L310.2 19.7L289.1 18.1L262.9 18.4L236.6 21.0L231.3 25.0L244.5 27.6L244.5 31.5ZM244.5 64.4L249.7 63.1L260.2 68.4L261.5 69.7L252.3 71.0L244.5 69.1ZM317.3 111.5L320.7 106.5L323.8 101.7L327.3 101.2L326.5 105.2L332.5 107.0L334.6 111.7L332.5 114.1L327.3 113.3L325.9 111.5ZM249.7 179.0L255.0 176.1L261.5 175.9L270.7 180.1L276.0 182.2L278.1 183.5L269.4 184.3L268.1 182.4L262.9 179.6L257.6 177.7L252.3 179.3ZM277.6 188.2L281.3 184.3L289.1 184.5L293.4 187.7L287.8 188.8L285.2 190.1ZM267.3 188.2L272.6 188.8L272.1 189.8L267.6 189.5ZM296.5 188.0L300.7 188.2L300.2 189.5L296.5 189.5ZM270.0 213.7L273.4 212.2L274.7 208.7L277.3 207.7L281.3 206.4L285.2 204.0L285.7 206.4L285.2 208.2L289.1 206.4L289.1 204.8L293.1 206.9L294.4 208.7L299.7 208.7L303.6 209.5L310.2 208.5L312.8 210.8L314.1 213.5L318.1 215.6L322.0 220.0L328.6 221.1L333.8 222.1L337.8 224.8L340.4 231.3L341.7 235.3L344.3 237.1L347.0 238.4L352.2 239.2L356.2 243.2L362.7 244.0L368.0 244.2L371.9 246.6L375.9 249.2L380.4 250.5L381.7 256.3L380.4 261.6L375.9 266.8L371.9 270.8L370.6 276.0L370.6 282.6L368.0 288.7L365.4 294.4L362.7 296.8L356.2 297.6L350.9 300.2L346.2 303.6L345.1 308.9L343.0 312.8L339.1 318.1L335.1 323.4L332.0 326.8L328.6 328.3L323.3 327.3L319.9 326.5L323.3 331.2L322.0 336.5L316.7 338.6L310.2 339.1L309.4 343.9L302.3 344.4L304.9 348.3L301.5 352.3L295.7 357.5L299.7 361.5L295.7 366.7L291.8 370.7L293.1 374.1L293.1 375.9L297.0 379.9L301.8 380.7L298.3 381.7L291.8 382.0L283.9 379.3L278.6 375.1L275.2 369.4L274.7 362.8L277.3 357.5L279.9 351.0L279.2 345.7L279.9 340.4L280.5 335.2L282.6 329.9L284.9 323.4L285.5 315.5L286.5 308.9L287.8 302.3L288.4 294.4L288.6 286.5L288.1 284.7L283.9 281.3L276.0 277.3L272.6 273.4L270.0 268.1L266.8 261.6L263.4 255.0L260.2 252.4L259.4 248.4L262.1 245.5L262.9 243.2L260.2 242.4L260.8 239.2L262.6 235.3L265.5 232.7L266.8 230.0L270.0 226.6L269.4 222.1L269.4 218.2L268.4 217.4ZM312.3 372.5L315.4 371.2L319.4 371.2L321.7 372.5L319.1 374.1L314.6 374.1ZM21.8 69.9L26.3 69.1L29.7 70.2L26.3 70.7ZM67.0 85.4L73.1 84.1L72.3 86.2L68.3 87.3ZM123.5 94.6L127.0 94.9L128.3 99.4L125.4 97.3ZM-2.6 48.6L6.3 49.2L5.3 50.2L-2.6 50.2ZM942.4 49.7L948.9 48.6L948.9 50.2L943.7 50.5ZM33.1 78.3L37.6 78.1L37.6 79.4L34.2 79.4ZM458.4 142.0L456.6 140.1L453.7 138.8L449.8 139.3L450.0 135.4L448.2 134.6L450.0 130.1L450.0 126.2L448.7 123.6L452.1 121.7L458.7 122.2L463.9 122.5L468.4 122.5L470.0 119.6L470.0 115.7L467.4 112.5L461.3 110.7L460.8 109.1L465.3 108.3L468.9 108.8L468.4 105.9L470.0 106.5L473.7 106.5L477.1 104.6L477.6 102.8L482.4 101.5L484.5 99.4L485.8 97.3L488.9 96.0L491.6 95.7L495.5 95.2L496.0 93.3L494.7 90.7L494.7 86.8L498.9 85.4L501.0 84.9L500.2 88.1L501.5 89.1L498.9 91.5L498.9 93.1L502.1 93.9L505.5 93.9L509.4 93.9L510.7 94.9L515.2 93.9L521.5 92.5L524.4 93.6L528.4 91.5L528.4 87.3L530.2 85.2L534.9 86.8L537.0 86.0L537.0 83.3L534.9 82.3L534.9 81.0L541.5 79.9L546.8 80.2L552.0 79.1L548.1 77.6L541.5 77.8L533.6 79.1L529.7 77.3L529.1 74.1L529.1 71.0L537.6 66.2L539.7 64.9L536.2 63.6L531.0 64.1L529.1 67.0L523.1 70.2L519.2 72.8L518.4 76.2L521.8 78.3L522.6 80.2L517.8 82.3L516.5 86.0L515.2 88.6L511.3 89.1L510.5 91.0L507.3 91.0L506.3 88.9L503.4 84.1L502.1 81.5L500.8 80.7L498.1 82.0L494.2 83.9L491.6 84.1L487.9 82.0L486.3 78.3L486.3 74.1L490.2 71.5L495.5 69.7L500.8 67.0L504.7 64.4L507.3 61.0L511.3 57.8L516.5 55.7L521.8 53.1L529.7 52.1L536.2 49.9L541.5 49.7L546.8 49.9L554.6 51.8L549.4 53.1L556.0 53.4L561.2 54.2L567.8 54.7L574.4 57.0L580.9 59.7L580.9 61.8L574.4 63.1L565.2 61.3L559.9 61.3L563.8 63.6L564.6 67.0L571.7 68.4L570.4 65.7L578.3 66.5L579.6 63.6L584.9 62.0L588.8 62.6L589.6 59.1L587.5 56.5L594.1 57.8L595.4 60.5L600.6 58.4L612.5 56.5L616.4 57.0L625.6 55.7L632.2 55.2L632.2 53.1L642.7 54.4L649.3 55.7L654.5 56.5L649.3 52.6L649.3 48.6L654.5 45.0L663.7 45.2L665.0 48.6L663.7 53.9L663.7 56.5L667.7 57.8L669.0 52.6L667.7 47.3L671.6 46.5L678.2 46.5L684.8 43.4L684.8 47.3L691.3 48.1L688.7 51.3L694.0 51.3L694.0 43.4L701.8 42.1L701.8 39.4L715.0 37.3L725.5 36.3L736.0 35.5L746.5 32.3L754.4 34.2L751.8 36.0L767.6 35.5L771.5 37.6L762.3 41.3L770.2 42.6L783.3 43.4L797.8 43.4L807.0 43.4L813.6 46.0L814.9 49.9L822.8 48.6L833.3 48.6L841.2 45.5L843.8 45.2L856.9 46.3L867.4 47.3L872.7 49.9L883.2 49.9L892.4 50.5L893.7 53.4L906.9 53.6L914.8 52.6L922.6 53.9L921.3 55.7L933.2 53.1L946.3 55.5L964.7 55.5L964.7 65.7L946.3 65.7L941.0 67.0L939.7 66.5L943.7 71.0L945.0 72.3L933.2 73.6L925.3 76.2L920.0 78.9L909.5 78.9L902.9 77.6L904.2 81.5L901.6 84.1L899.0 85.4L901.6 89.4L899.0 92.0L893.7 97.3L889.8 97.8L885.1 102.5L882.4 97.3L881.9 90.7L884.5 85.4L889.8 81.5L896.4 77.6L901.6 73.6L893.7 74.9L885.8 74.7L879.3 79.4L872.7 81.5L864.8 80.2L849.0 80.7L841.2 85.4L834.6 90.7L829.3 93.1L834.6 94.6L843.8 96.5L842.5 101.2L842.5 105.2L841.2 109.6L837.2 114.4L830.6 119.6L824.1 123.6L818.8 123.6L816.7 125.4L814.1 127.5L813.6 130.1L808.3 132.8L810.9 135.4L813.3 139.3L813.3 143.3L809.6 145.1L805.7 146.2L805.1 143.3L806.2 139.3L804.4 137.5L801.7 136.7L802.3 132.8L799.9 131.4L793.8 133.5L792.0 134.1L793.8 130.1L791.2 129.3L786.0 133.5L782.8 134.1L784.6 136.7L786.0 138.5L790.7 137.2L795.2 138.5L791.2 140.6L786.7 143.8L788.6 146.4L791.2 151.2L793.8 153.3L792.5 155.6L793.8 158.3L792.5 162.2L788.6 166.9L786.0 170.4L782.0 173.5L778.1 176.1L773.3 178.0L770.2 178.8L764.9 180.3L762.3 183.2L761.5 180.1L757.8 179.8L753.6 182.7L751.3 185.9L754.4 191.1L758.4 194.5L760.2 199.8L760.5 205.1L757.0 207.7L754.4 209.3L753.1 211.6L749.2 214.0L748.6 210.3L745.2 209.0L742.6 205.1L738.6 203.2L737.3 201.1L736.0 203.7L734.2 209.0L735.5 212.2L737.3 216.9L740.0 218.7L742.6 220.8L744.9 224.8L745.2 229.2L747.1 232.9L744.9 232.9L740.0 229.5L737.3 226.1L736.8 220.8L734.7 217.4L731.5 215.6L731.5 211.6L732.6 206.4L732.1 201.1L730.0 195.9L729.4 193.2L726.8 193.2L723.7 195.1L721.0 194.0L721.6 189.3L719.5 185.3L715.5 181.4L714.5 178.0L711.0 178.0L707.1 179.3L701.8 180.3L700.5 184.0L696.6 185.3L692.6 189.3L689.5 192.7L684.2 195.9L683.7 201.1L682.9 206.4L682.1 209.5L678.7 213.5L676.9 215.3L674.2 212.9L672.4 206.4L669.8 202.4L667.7 195.9L665.0 189.3L664.5 185.3L664.3 181.4L662.9 180.9L659.8 181.9L654.5 178.0L657.9 176.4L653.2 174.8L650.1 171.4L648.0 169.8L641.4 170.1L634.8 170.4L628.2 169.8L623.8 168.8L622.5 165.6L616.4 166.7L612.5 165.6L608.5 163.0L605.9 159.0L602.0 156.9L599.3 157.7L600.1 160.9L602.7 164.3L605.1 166.9L606.7 169.6L607.7 168.0L608.8 170.9L608.3 172.5L611.2 173.0L615.1 173.0L619.0 170.1L621.1 167.7L621.7 171.4L624.3 174.0L627.7 174.8L630.3 177.4L626.9 182.7L625.1 186.7L621.7 189.3L617.7 191.9L610.4 194.5L602.0 199.0L591.4 203.0L587.5 203.2L586.2 201.1L585.7 197.2L584.9 193.2L580.9 188.0L576.2 181.4L574.4 174.8L570.9 170.9L567.8 166.9L565.2 163.0L564.6 159.0L563.3 163.0L563.0 163.5L560.7 161.7L558.8 158.0L558.1 154.6L563.0 154.3L565.2 150.4L567.3 145.9L567.8 142.0L567.8 140.1L563.8 140.1L559.9 141.7L554.6 140.1L553.3 141.2L549.4 141.2L545.4 139.9L544.6 138.0L542.3 135.4L543.3 132.8L542.0 131.4L542.0 130.1L541.5 129.3L537.6 129.1L536.2 130.7L533.6 130.7L532.8 132.8L534.9 135.4L536.2 136.7L534.4 137.2L534.1 140.6L532.3 140.6L530.2 139.9L528.9 137.2L528.4 135.4L527.0 133.3L524.4 130.7L524.4 127.0L521.8 124.9L517.8 123.0L513.9 120.9L512.6 118.3L510.7 117.5L509.2 117.8L508.9 116.5L505.7 117.2L505.5 119.6L508.6 122.0L510.5 124.9L515.2 126.4L515.2 127.8L520.5 129.9L521.8 131.2L520.5 131.7L517.8 130.1L516.8 132.0L518.1 134.1L516.5 135.4L515.2 137.0L514.4 136.7L514.7 134.1L513.4 131.4L511.3 129.9L509.2 128.3L505.5 127.0L502.1 124.9L500.8 123.6L500.0 121.2L496.8 120.1L492.9 121.5L488.9 123.3L485.8 122.5L482.4 122.8L481.0 124.9L481.6 126.4L478.4 128.0L475.3 129.3L473.1 132.0L472.4 133.3L473.7 134.9L471.3 137.8L467.9 139.9L461.6 140.1ZM-18.4 55.5L0.0 55.5L7.9 57.3L18.4 60.5L26.3 63.1L21.0 66.2L18.4 67.6L10.5 64.9L3.9 62.3L0.0 65.7L-18.4 65.7ZM546.8 127.5L546.8 123.6L548.9 119.6L551.2 117.8L552.5 116.2L556.0 114.1L561.2 115.7L558.6 117.2L561.7 119.9L565.2 119.1L569.1 117.8L565.9 117.2L565.9 114.9L571.7 113.0L576.2 112.5L574.4 115.7L571.2 117.5L573.0 119.6L577.0 121.7L582.2 124.3L582.2 127.5L578.3 128.8L573.0 128.8L569.1 128.0L565.2 126.2L559.9 126.2L554.6 128.3L549.4 128.3ZM602.0 114.4L607.2 113.0L612.5 113.6L612.5 117.5L608.0 118.3L605.4 119.6L607.2 122.2L611.2 124.9L611.2 127.5L615.1 128.8L612.5 131.4L614.6 134.6L614.6 139.3L608.5 140.1L604.6 138.5L602.0 135.4L602.7 130.1L598.0 123.6L596.2 119.6L598.0 116.5ZM457.6 142.5L467.9 144.3L473.1 142.5L481.0 139.6L491.6 139.3L499.4 138.5L502.1 139.3L500.8 142.0L501.5 145.9L499.4 147.2L502.1 149.3L506.0 150.1L513.1 151.7L515.2 154.3L520.5 156.4L524.4 156.7L525.7 153.8L527.0 151.2L531.0 150.1L534.9 151.9L538.9 153.5L545.4 154.6L549.4 155.4L554.6 153.8L558.1 154.6L558.8 158.0L560.7 162.5L562.5 165.6L565.2 171.4L567.0 176.1L570.4 180.1L570.9 186.7L574.4 189.3L577.0 195.9L580.9 198.5L584.9 202.4L587.0 205.1L587.0 206.4L590.1 209.0L596.7 207.4L602.0 206.9L607.7 205.6L607.7 209.0L605.9 212.9L603.3 218.2L599.3 224.8L594.1 230.0L588.8 234.0L583.6 239.2L580.9 242.4L578.8 244.5L577.0 249.0L575.1 253.7L577.0 257.6L577.0 261.6L579.6 264.2L579.6 270.8L580.1 276.0L577.0 280.0L570.4 283.4L566.5 286.5L564.6 289.2L565.9 294.4L566.5 299.7L559.9 303.6L559.4 307.6L558.1 312.3L554.6 315.5L552.0 318.9L547.5 322.8L542.8 325.5L538.9 326.0L532.3 326.2L525.7 328.1L521.5 326.5L521.0 322.8L518.6 316.8L516.5 311.8L512.6 306.3L511.3 297.1L508.6 291.8L504.7 283.9L504.2 278.7L505.5 274.7L508.6 269.5L509.4 265.5L508.1 260.3L505.5 252.4L504.7 249.7L502.3 246.9L498.1 243.2L496.3 238.7L498.1 235.3L498.1 231.3L498.9 228.2L496.8 226.1L495.5 224.5L491.6 225.0L488.9 225.3L485.0 220.0L479.7 220.0L475.8 221.1L470.5 222.9L467.9 224.0L465.3 223.2L461.3 222.9L457.4 224.0L453.4 225.0L449.5 222.9L445.5 219.5L442.9 218.5L440.3 216.9L438.5 214.3L438.2 211.6L435.0 209.0L433.7 207.7L431.1 205.1L429.3 204.0L429.0 201.1L427.1 198.0L429.8 194.5L430.3 189.3L430.6 185.3L429.0 181.4L428.5 180.6L430.6 176.1L433.7 171.4L435.0 168.2L437.7 164.8L439.2 163.3L444.2 160.9L446.9 159.0L447.7 156.4L447.4 153.8L449.5 150.6L454.7 147.7L456.1 146.4ZM602.7 268.1L605.9 277.3L603.3 282.6L600.6 290.5L597.5 301.0L595.4 302.8L591.4 303.6L588.0 300.5L587.0 294.4L589.6 289.2L588.8 282.6L591.4 278.7L596.7 276.8L599.3 272.9ZM458.2 104.9L463.9 104.4L470.5 103.3L476.6 102.0L475.8 100.9L477.6 98.1L473.9 97.3L473.1 95.4L470.0 93.1L467.9 89.9L465.3 89.4L467.9 85.2L463.9 84.9L465.3 82.5L460.0 82.5L457.4 85.4L458.7 89.4L460.0 92.0L463.9 92.3L465.3 94.6L465.3 96.2L461.3 96.7L462.1 99.1L459.5 100.4L463.9 101.2L465.3 102.0ZM446.9 100.9L452.1 100.7L456.6 99.4L457.4 96.0L458.2 93.3L456.1 91.5L452.1 91.5L450.8 93.3L446.9 94.1L448.2 96.7L446.1 99.4ZM410.1 64.4L415.3 62.0L425.8 62.6L433.7 62.3L437.4 65.7L433.7 67.6L424.0 69.9L414.0 68.6L415.3 66.8ZM502.1 27.6L510.0 26.3L525.7 25.5L544.1 25.8L536.2 28.9L523.1 30.2L528.4 32.9L517.8 35.2L510.0 32.9ZM608.5 48.6L612.5 44.7L617.7 39.4L630.9 36.0L651.9 34.2L653.2 36.0L633.5 38.9L624.3 43.4L624.3 47.3L623.0 50.7L615.1 50.5ZM713.7 27.3L722.9 23.4L736.0 25.8L734.7 30.0L720.2 30.0ZM833.3 38.1L846.4 36.8L867.4 38.1L862.2 40.0L846.4 40.0ZM591.4 24.7L599.3 23.7L609.8 24.2L607.2 25.5L596.7 25.5ZM494.7 128.8L498.6 128.8L498.4 133.5L495.5 134.1ZM495.8 123.8L498.1 123.8L497.9 127.5L496.0 127.2ZM506.0 136.7L513.9 136.2L512.8 140.1L506.3 138.0ZM535.2 143.0L542.0 143.8L542.0 144.6L535.2 144.1ZM558.1 144.6L563.8 143.0L562.5 145.4L559.1 145.6ZM846.4 93.9L849.0 97.3L849.8 102.5L850.4 107.0L849.0 112.3L850.4 114.4L846.4 115.7L846.4 110.4L846.4 103.8L845.6 99.9ZM841.2 127.5L843.8 123.0L845.6 117.2L850.4 120.1L855.1 120.1L855.6 122.8L850.4 126.2L845.1 124.9ZM844.6 127.8L846.4 132.8L843.8 136.7L843.3 142.0L841.2 144.6L837.2 145.4L833.3 145.6L830.1 148.5L828.0 145.6L822.8 146.4L817.5 147.2L817.5 145.9L821.4 143.3L829.3 143.0L832.7 138.8L837.2 138.5L839.8 135.4L841.2 131.4L841.2 128.8ZM814.9 148.5L819.3 148.3L818.8 153.8L816.2 154.6L814.9 151.2ZM821.4 147.2L826.7 146.7L825.9 148.5L822.8 150.4ZM791.2 170.4L793.8 170.9L791.2 178.8L789.1 176.1ZM758.9 186.1L763.6 183.8L764.9 185.1L761.0 188.8ZM683.4 210.8L688.2 216.9L686.1 220.3L683.4 220.8L682.9 215.6ZM789.9 188.0L794.4 188.0L794.4 193.2L792.5 197.2L793.8 199.8L799.1 202.4L799.1 203.7L795.2 201.1L791.2 200.6L789.9 198.5L788.6 194.5ZM793.8 218.2L797.8 213.7L803.0 210.8L805.7 215.6L804.9 220.0L803.0 221.6L799.1 219.5ZM800.4 203.7L803.0 205.1L802.5 209.5L800.4 209.0ZM793.8 205.6L797.0 206.4L797.3 211.6L795.2 211.6L793.8 209.0ZM781.2 214.3L787.3 206.9L787.8 209.0L782.0 214.8ZM759.7 232.7L761.0 231.3L764.9 232.1L765.7 229.2L770.2 228.2L772.8 224.8L776.8 222.1L780.2 218.2L782.5 220.0L786.5 222.7L783.3 225.3L782.5 228.7L785.4 234.0L782.5 235.3L782.0 238.7L779.4 240.5L779.4 245.3L778.1 247.1L774.1 247.4L770.2 245.3L766.8 245.3L762.8 244.0L762.3 240.5L759.7 237.4ZM723.7 221.9L729.4 222.9L732.1 226.1L736.8 230.0L740.0 231.3L743.9 234.8L746.0 237.9L747.8 241.3L751.8 244.5L751.8 251.8L749.2 251.8L746.5 249.7L742.1 247.1L738.6 243.2L736.8 238.7L733.4 235.3L732.1 231.9L728.1 228.7L724.2 224.0ZM749.7 254.5L753.1 252.4L758.4 253.7L763.6 254.5L764.9 253.4L769.4 254.7L774.1 256.8L774.1 259.5L766.2 258.4L758.4 257.1L753.1 256.1ZM787.3 251.1L786.0 245.8L786.0 241.9L788.1 236.6L789.1 234.5L791.2 233.2L797.8 234.2L801.7 232.1L800.4 235.5L796.5 235.5L791.2 235.5L789.1 239.0L792.5 239.0L797.3 238.7L795.9 240.5L792.5 241.6L795.2 245.3L796.5 247.1L795.9 249.7L793.8 249.2L792.5 246.6L791.2 243.7L789.6 244.5L789.6 251.1ZM817.5 238.7L821.4 237.7L825.4 238.7L825.9 243.2L828.0 245.3L832.0 242.4L835.9 240.8L843.8 243.4L853.0 246.6L856.4 249.7L860.9 252.4L861.7 255.0L859.0 255.0L862.2 258.9L868.8 263.7L866.1 263.7L860.9 262.9L856.9 258.9L853.0 256.8L849.0 260.3L843.8 260.5L839.8 257.6L835.9 258.4L837.2 255.0L835.9 251.1L830.6 248.7L825.4 246.9L822.8 247.1L822.0 244.5L824.9 242.6L820.1 242.4ZM797.8 263.7L801.7 260.3L807.5 258.7L805.7 260.8L800.4 263.4ZM778.1 258.7L786.0 258.4L796.5 258.2L795.9 259.7L786.0 260.0L778.1 260.0ZM808.3 231.3L810.9 232.7L810.9 237.9L808.8 237.9L808.3 234.0ZM809.6 244.5L817.0 244.5L816.2 246.3L809.6 245.8ZM863.5 251.1L867.4 251.1L872.7 247.6L873.5 249.7L868.8 253.2L863.5 251.8ZM869.5 243.4L874.0 245.8L875.3 249.0L874.0 247.6L870.1 244.5ZM904.2 289.7L909.5 293.1L912.1 295.2L909.5 295.0L904.8 291.3ZM939.2 282.3L942.6 282.6L942.4 284.4L939.2 284.4ZM63.1 183.5L65.7 184.3L66.0 185.6L63.9 186.7L63.1 185.1ZM654.0 364.6L658.5 365.7L657.9 367.0L654.3 366.7ZM771.5 294.4L773.3 293.9L778.1 291.3L784.6 290.0L791.2 288.1L794.6 283.9L794.4 281.3L797.8 282.1L799.1 279.5L803.0 274.7L807.0 272.9L809.6 275.5L813.6 275.8L814.9 271.6L817.0 269.2L821.4 268.4L822.0 266.6L828.0 268.7L832.7 268.7L830.6 271.6L829.3 276.0L833.3 278.1L838.5 281.3L842.5 282.9L845.1 277.3L845.6 272.1L846.4 266.8L847.7 264.7L850.4 269.5L850.4 274.2L855.1 276.0L856.9 282.6L857.7 286.5L863.5 289.7L866.1 294.4L869.5 298.4L874.8 303.1L875.9 308.9L876.9 312.0L875.3 318.1L872.7 322.8L870.1 326.0L868.2 331.2L867.4 335.2L862.2 336.2L857.7 339.1L854.3 337.3L850.4 338.6L845.1 337.3L841.2 335.2L839.8 331.2L835.9 330.5L837.2 328.1L835.4 323.9L834.6 326.0L833.3 329.1L830.6 328.1L828.8 327.6L825.9 323.4L820.1 320.7L812.2 319.7L804.4 321.5L799.1 323.4L797.8 325.7L788.6 325.7L783.3 328.6L776.8 327.0L775.4 326.5L777.3 320.7L775.4 315.5L773.3 308.9L771.5 305.0L771.5 301.0ZM853.5 343.6L862.2 343.9L863.0 347.0L860.9 351.0L856.9 351.0L854.8 347.5ZM927.1 327.0L931.8 331.8L935.3 333.3L935.8 335.4L941.8 335.4L940.5 339.7L938.4 340.4L937.9 343.1L933.9 346.0L932.6 345.2L933.7 342.3L930.0 339.9L932.6 336.5L931.8 333.3L927.9 328.6ZM927.1 343.1L931.1 345.2L927.9 349.6L923.4 353.1L922.6 357.0L918.7 359.1L914.2 358.6L910.8 357.0L915.5 352.3L921.3 349.1L925.3 344.4ZM911.1 276.0L912.9 276.6L914.2 280.0L912.7 279.2ZM879.8 251.1L883.0 254.5L881.9 254.7L879.5 252.1ZM884.5 254.2L887.2 256.1L886.4 256.3L884.3 254.7ZM889.8 256.6L893.2 258.7L892.7 259.2L889.5 257.4ZM892.9 261.0L895.8 262.4L895.0 262.9L892.7 261.8ZM895.6 258.7L897.4 261.6L896.6 261.6L895.0 259.2ZM897.1 263.7L899.8 264.7L899.0 265.3L897.1 264.2ZM331.4 447.5L341.9 442.9L356.4 442.9L358.5 446.5L343.9 449.6ZM300.2 448.2L308.5 446.5L314.8 447.1L308.5 449.6ZM43.4 442.9L47.1 442.3L54.4 444.7L52.3 445.4L45.0 444.7ZM142.8 46.1L145.3 41.7L157.2 40.4L167.2 42.3L172.2 45.4L164.7 46.7L161.0 49.2L148.5 49.8ZM150.3 36.1L156.0 32.9L167.8 32.3L167.2 34.8L159.1 37.3ZM165.3 38.6L169.7 36.1L182.2 36.1L184.7 34.8L188.5 36.1L194.7 38.0L193.5 39.8L182.2 39.8L174.7 41.1ZM174.7 31.7L179.7 29.2L184.7 30.5L182.2 32.9ZM159.1 47.9L172.2 45.4L182.2 46.7L188.5 44.2L197.2 43.6L202.2 50.4L207.2 52.9L203.5 57.3L188.5 56.1L173.5 57.3L163.5 52.3L169.7 51.1L162.2 50.4ZM195.3 28.6L207.2 28.6L211.0 31.1L202.2 31.7ZM203.5 36.1L214.7 35.2L216.0 39.2L207.2 39.8ZM206.0 42.9L217.2 42.3L219.7 46.7L213.5 49.2L207.2 46.7ZM219.7 45.4L229.7 42.9L236.0 46.7L232.2 51.7L224.7 50.4ZM214.7 53.6L222.2 52.9L225.3 56.1L219.7 58.6ZM218.5 38.6L227.2 38.0L226.6 40.4L219.7 40.4ZM219.7 25.4L228.5 22.9L236.0 24.2L236.0 30.5L227.2 29.8ZM236.0 36.1L262.2 34.8L263.5 39.2L244.7 41.1L236.0 39.2ZM-0.0 458.3L5.4 457.5L10.6 458.6L17.9 458.3L41.9 460.0L83.5 461.4L97.6 459.3L83.5 458.3L71.0 455.7L71.0 452.5L61.7 449.6L85.6 448.6L87.7 446.5L67.9 444.2L57.5 440.0L73.1 439.5L88.7 435.9L104.4 433.8L125.2 432.2L138.7 430.1L156.4 431.2L177.3 432.2L203.3 433.3L208.5 432.2L201.2 429.6L204.4 426.0L218.9 426.0L220.0 427.5L240.2 429.1L250.2 428.8L271.0 426.3L279.4 424.6L291.9 422.5L287.7 418.4L298.1 413.2L308.5 406.9L322.1 403.4L312.7 406.9L308.5 412.1L311.7 420.4L312.7 428.8L300.2 434.0L271.0 439.2L268.9 444.4L279.4 447.5L302.3 450.7L321.0 454.8L333.5 452.7L364.8 450.7L396.0 447.9L381.4 442.9L396.0 440.2L427.3 431.9L448.1 425.7L480.2 422.5L470.2 423.6L491.0 420.4L511.9 420.4L532.7 420.4L553.5 418.4L561.9 415.9L574.4 419.4L595.2 414.2L616.0 409.4L636.9 414.2L651.5 415.2L653.5 425.7L668.1 420.4L678.5 417.3L689.0 412.1L703.5 411.1L720.2 412.1L741.0 409.0L751.4 411.1L772.3 410.0L793.1 411.1L824.4 410.0L828.5 408.4L834.8 411.1L855.6 412.1L866.0 416.3L886.9 418.4L907.7 422.5L922.3 425.7L907.7 434.0L903.5 440.2L910.8 443.8L897.3 445.4L893.1 449.6L907.7 455.4L926.5 458.6L936.9 457.5L948.3 459.0"/>
</g>
</defs>
<rect width="2304" height="639" fill="#fff"/>
<text x="1193.2" y="34.4" text-anchor="middle" font-size="25">LANDFRAC: Native vs Remapped (last timestep)</text>
<text x="488.2" y="139.6" text-anchor="middle" font-size="20.83">Native ne30pg2 (LANDFRAC)</text>
<text x="1660.6" y="139.6" text-anchor="middle" font-size="20.83">Remapped lat-lon (LANDFRAC)</text>

<g transform="translate(14.8 150.8)">
<g clip-path="url(#hull)"><g transform="rotate(45)"><g filter="url(#pixD)"><g transform="rotate(-45)"><g clip-path="url(#bm)"><use href="#landL" filter="url(#Lm)"/></g><g clip-path="url(#bhn)"><use href="#landL" filter="url(#Lhn)"/></g><g clip-path="url(#bpn)"><use href="#landL" filter="url(#Lpn)"/></g><g clip-path="url(#bhs)"><use href="#landL" filter="url(#Lhs)"/></g><g clip-path="url(#bps)"><use href="#landL" filter="url(#Lps)"/></g></g></g></g></g>
<g clip-path="url(#box)"><use href="#coast"/></g>
<rect x="0" y="0" width="946.3" height="473.2" fill="none" stroke="#000" stroke-width="1.67"/>
</g>
<g transform="translate(1188 151)">
<g clip-path="url(#boxR)"><g filter="url(#pix)"><g transform="translate(-0.2 -0.2)"><g clip-path="url(#bm)"><use href="#landR" filter="url(#Rm)"/></g><g clip-path="url(#bhn)"><use href="#landR" filter="url(#Rhn)"/></g><g clip-path="url(#bpn)"><use href="#landR" filter="url(#Rpn)"/></g><g clip-path="url(#bhs)"><use href="#landR" filter="url(#Rhs)"/></g><g clip-path="url(#bps)"><use href="#landR" filter="url(#Rps)"/></g></g></g></g>
</g>
<g transform="translate(1187.8 150.8)">
<g clip-path="url(#box)"><use href="#coast"/></g>
<rect x="0" y="0" width="946.3" height="473.2" fill="none" stroke="#000" stroke-width="1.67"/>
</g>
<rect x="1020.0" y="183.0" width="19.8" height="409.0" fill="url(#cbg)" stroke="#000" stroke-width="1.67"/><line x1="1039.8" y1="592.0" x2="1047.1" y2="592.0" stroke="#000" stroke-width="1.67"/><text x="1055.0" y="601.3" font-size="20.83" letter-spacing="-0.4">0.0</text><line x1="1039.8" y1="510.2" x2="1047.1" y2="510.2" stroke="#000" stroke-width="1.67"/><text x="1055.0" y="519.5" font-size="20.83" letter-spacing="-0.4">0.2</text><line x1="1039.8" y1="428.4" x2="1047.1" y2="428.4" stroke="#000" stroke-width="1.67"/><text x="1055.0" y="437.7" font-size="20.83" letter-spacing="-0.4">0.4</text><line x1="1039.8" y1="346.6" x2="1047.1" y2="346.6" stroke="#000" stroke-width="1.67"/><text x="1055.0" y="355.9" font-size="20.83" letter-spacing="-0.4">0.6</text><line x1="1039.8" y1="264.8" x2="1047.1" y2="264.8" stroke="#000" stroke-width="1.67"/><text x="1055.0" y="274.1" font-size="20.83" letter-spacing="-0.4">0.8</text><line x1="1039.8" y1="183.0" x2="1047.1" y2="183.0" stroke="#000" stroke-width="1.67"/><text x="1055.0" y="192.3" font-size="20.83" letter-spacing="-0.4">1.0</text><text transform="translate(1111.4 390.7) rotate(-90)" text-anchor="middle" font-size="20.83">fraction</text>
<rect x="2193.0" y="183.0" width="19.8" height="409.0" fill="url(#cbg)" stroke="#000" stroke-width="1.67"/><line x1="2212.8" y1="592.0" x2="2220.1" y2="592.0" stroke="#000" stroke-width="1.67"/><text x="2228.0" y="601.3" font-size="20.83" letter-spacing="-0.4">0.0</text><line x1="2212.8" y1="510.2" x2="2220.1" y2="510.2" stroke="#000" stroke-width="1.67"/><text x="2228.0" y="519.5" font-size="20.83" letter-spacing="-0.4">0.2</text><line x1="2212.8" y1="428.4" x2="2220.1" y2="428.4" stroke="#000" stroke-width="1.67"/><text x="2228.0" y="437.7" font-size="20.83" letter-spacing="-0.4">0.4</text><line x1="2212.8" y1="346.6" x2="2220.1" y2="346.6" stroke="#000" stroke-width="1.67"/><text x="2228.0" y="355.9" font-size="20.83" letter-spacing="-0.4">0.6</text><line x1="2212.8" y1="264.8" x2="2220.1" y2="264.8" stroke="#000" stroke-width="1.67"/><text x="2228.0" y="274.1" font-size="20.83" letter-spacing="-0.4">0.8</text><line x1="2212.8" y1="183.0" x2="2220.1" y2="183.0" stroke="#000" stroke-width="1.67"/><text x="2228.0" y="192.3" font-size="20.83" letter-spacing="-0.4">1.0</text><text transform="translate(2284.4 390.7) rotate(-90)" text-anchor="middle" font-size="20.83">fraction</text>
</svg>
</body></html>
